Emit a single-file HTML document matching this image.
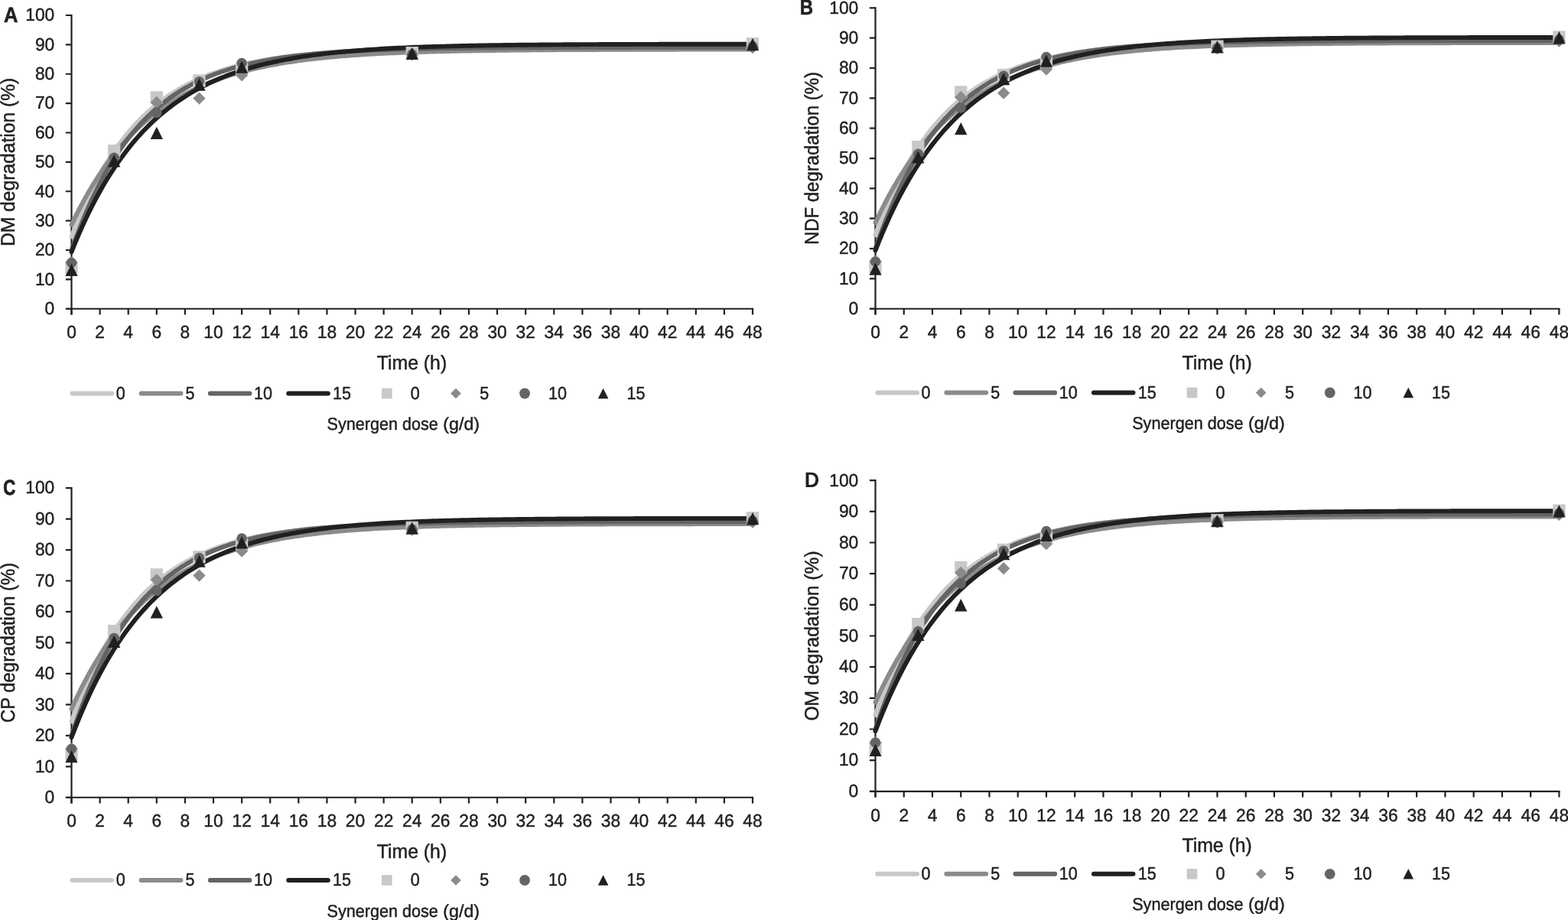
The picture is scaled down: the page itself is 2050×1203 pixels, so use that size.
<!DOCTYPE html>
<html lang="en"><head><meta charset="utf-8"><title>Degradation curves</title>
<style>html,body{margin:0;padding:0;background:#fff;}body{width:2050px;height:1203px;overflow:hidden;}svg{display:block;}</style>
</head><body>
<svg width="2050" height="1203" viewBox="0 0 2050 1203" font-family='"Liberation Sans", sans-serif' fill="#231f20" text-rendering="geometricPrecision">
<g><path d="M93.5 18.9V411.45M85.9 403.75H985.1" stroke="#231f20" stroke-width="2.2" fill="none"/>
<path d="M85.9 403.75H93.5M85.9 365.38H93.5M85.9 327H93.5M85.9 288.62H93.5M85.9 250.25H93.5M85.9 211.88H93.5M85.9 173.5H93.5M85.9 135.12H93.5M85.9 96.75H93.5M85.9 58.38H93.5M85.9 20H93.5M93.5 403.75V411.45M130.6 403.75V411.45M167.71 403.75V411.45M204.81 403.75V411.45M241.92 403.75V411.45M279.02 403.75V411.45M316.12 403.75V411.45M353.23 403.75V411.45M390.33 403.75V411.45M427.44 403.75V411.45M464.54 403.75V411.45M501.65 403.75V411.45M538.75 403.75V411.45M575.85 403.75V411.45M612.96 403.75V411.45M650.06 403.75V411.45M687.17 403.75V411.45M724.27 403.75V411.45M761.38 403.75V411.45M798.48 403.75V411.45M835.58 403.75V411.45M872.69 403.75V411.45M909.79 403.75V411.45M946.9 403.75V411.45M984 403.75V411.45" stroke="#231f20" stroke-width="2.2" fill="none"/>
<text transform="translate(71.3 411.05) scale(1 1.02)" font-size="22.8" text-anchor="end" stroke="#231f20" stroke-width="0.45">0</text>
<text transform="translate(71.3 372.68) scale(1 1.02)" font-size="22.8" text-anchor="end" stroke="#231f20" stroke-width="0.45">10</text>
<text transform="translate(71.3 334.3) scale(1 1.02)" font-size="22.8" text-anchor="end" stroke="#231f20" stroke-width="0.45">20</text>
<text transform="translate(71.3 295.93) scale(1 1.02)" font-size="22.8" text-anchor="end" stroke="#231f20" stroke-width="0.45">30</text>
<text transform="translate(71.3 257.55) scale(1 1.02)" font-size="22.8" text-anchor="end" stroke="#231f20" stroke-width="0.45">40</text>
<text transform="translate(71.3 219.18) scale(1 1.02)" font-size="22.8" text-anchor="end" stroke="#231f20" stroke-width="0.45">50</text>
<text transform="translate(71.3 180.8) scale(1 1.02)" font-size="22.8" text-anchor="end" stroke="#231f20" stroke-width="0.45">60</text>
<text transform="translate(71.3 142.43) scale(1 1.02)" font-size="22.8" text-anchor="end" stroke="#231f20" stroke-width="0.45">70</text>
<text transform="translate(71.3 104.05) scale(1 1.02)" font-size="22.8" text-anchor="end" stroke="#231f20" stroke-width="0.45">80</text>
<text transform="translate(71.3 65.67) scale(1 1.02)" font-size="22.8" text-anchor="end" stroke="#231f20" stroke-width="0.45">90</text>
<text transform="translate(71.3 27.3) scale(1 1.02)" font-size="22.8" text-anchor="end" stroke="#231f20" stroke-width="0.45">100</text>
<text transform="translate(93.5 442.45) scale(1 1.02)" font-size="22.8" text-anchor="middle" stroke="#231f20" stroke-width="0.45">0</text>
<text transform="translate(130.6 442.45) scale(1 1.02)" font-size="22.8" text-anchor="middle" stroke="#231f20" stroke-width="0.45">2</text>
<text transform="translate(167.71 442.45) scale(1 1.02)" font-size="22.8" text-anchor="middle" stroke="#231f20" stroke-width="0.45">4</text>
<text transform="translate(204.81 442.45) scale(1 1.02)" font-size="22.8" text-anchor="middle" stroke="#231f20" stroke-width="0.45">6</text>
<text transform="translate(241.92 442.45) scale(1 1.02)" font-size="22.8" text-anchor="middle" stroke="#231f20" stroke-width="0.45">8</text>
<text transform="translate(279.02 442.45) scale(1 1.02)" font-size="22.8" text-anchor="middle" stroke="#231f20" stroke-width="0.45">10</text>
<text transform="translate(316.12 442.45) scale(1 1.02)" font-size="22.8" text-anchor="middle" stroke="#231f20" stroke-width="0.45">12</text>
<text transform="translate(353.23 442.45) scale(1 1.02)" font-size="22.8" text-anchor="middle" stroke="#231f20" stroke-width="0.45">14</text>
<text transform="translate(390.33 442.45) scale(1 1.02)" font-size="22.8" text-anchor="middle" stroke="#231f20" stroke-width="0.45">16</text>
<text transform="translate(427.44 442.45) scale(1 1.02)" font-size="22.8" text-anchor="middle" stroke="#231f20" stroke-width="0.45">18</text>
<text transform="translate(464.54 442.45) scale(1 1.02)" font-size="22.8" text-anchor="middle" stroke="#231f20" stroke-width="0.45">20</text>
<text transform="translate(501.65 442.45) scale(1 1.02)" font-size="22.8" text-anchor="middle" stroke="#231f20" stroke-width="0.45">22</text>
<text transform="translate(538.75 442.45) scale(1 1.02)" font-size="22.8" text-anchor="middle" stroke="#231f20" stroke-width="0.45">24</text>
<text transform="translate(575.85 442.45) scale(1 1.02)" font-size="22.8" text-anchor="middle" stroke="#231f20" stroke-width="0.45">26</text>
<text transform="translate(612.96 442.45) scale(1 1.02)" font-size="22.8" text-anchor="middle" stroke="#231f20" stroke-width="0.45">28</text>
<text transform="translate(650.06 442.45) scale(1 1.02)" font-size="22.8" text-anchor="middle" stroke="#231f20" stroke-width="0.45">30</text>
<text transform="translate(687.17 442.45) scale(1 1.02)" font-size="22.8" text-anchor="middle" stroke="#231f20" stroke-width="0.45">32</text>
<text transform="translate(724.27 442.45) scale(1 1.02)" font-size="22.8" text-anchor="middle" stroke="#231f20" stroke-width="0.45">34</text>
<text transform="translate(761.38 442.45) scale(1 1.02)" font-size="22.8" text-anchor="middle" stroke="#231f20" stroke-width="0.45">36</text>
<text transform="translate(798.48 442.45) scale(1 1.02)" font-size="22.8" text-anchor="middle" stroke="#231f20" stroke-width="0.45">38</text>
<text transform="translate(835.58 442.45) scale(1 1.02)" font-size="22.8" text-anchor="middle" stroke="#231f20" stroke-width="0.45">40</text>
<text transform="translate(872.69 442.45) scale(1 1.02)" font-size="22.8" text-anchor="middle" stroke="#231f20" stroke-width="0.45">42</text>
<text transform="translate(909.79 442.45) scale(1 1.02)" font-size="22.8" text-anchor="middle" stroke="#231f20" stroke-width="0.45">44</text>
<text transform="translate(946.9 442.45) scale(1 1.02)" font-size="22.8" text-anchor="middle" stroke="#231f20" stroke-width="0.45">46</text>
<text transform="translate(984 442.45) scale(1 1.02)" font-size="22.8" text-anchor="middle" stroke="#231f20" stroke-width="0.45">48</text>
<path d="M93.5 309.35L98.14 297.29L102.78 285.83L107.41 274.92L112.05 264.55L116.69 254.68L121.33 245.29L125.97 236.37L130.6 227.87L135.24 219.79L139.88 212.11L144.52 204.8L149.16 197.84L153.79 191.23L158.43 184.94L163.07 178.95L167.71 173.26L172.35 167.84L176.98 162.69L181.62 157.79L186.26 153.13L190.9 148.69L195.54 144.48L200.17 140.46L204.81 136.65L209.45 133.02L214.09 129.56L218.73 126.28L223.36 123.16L228 120.18L232.64 117.36L237.28 114.67L241.92 112.11L246.55 109.67L251.19 107.36L255.83 105.16L260.47 103.06L265.11 101.07L269.74 99.18L274.38 97.37L279.02 95.66L283.66 94.03L288.3 92.48L292.93 91L297.57 89.6L302.21 88.26L306.85 86.99L311.49 85.78L316.12 84.63L320.76 83.54L325.4 82.5L330.04 81.51L334.68 80.57L339.32 79.67L343.95 78.82L348.59 78.01L353.23 77.24L357.87 76.51L362.51 75.81L367.14 75.15L371.78 74.52L376.42 73.92L381.06 73.35L385.7 72.8L390.33 72.29L394.97 71.79L399.61 71.33L404.25 70.88L408.89 70.46L413.52 70.06L418.16 69.68L422.8 69.31L427.44 68.97L432.08 68.64L436.71 68.32L441.35 68.02L445.99 67.74L450.63 67.47L455.27 67.21L459.9 66.97L464.54 66.74L469.18 66.52L473.82 66.31L478.46 66.11L483.09 65.92L487.73 65.74L492.37 65.57L497.01 65.4L501.65 65.25L506.28 65.1L510.92 64.96L515.56 64.82L520.2 64.7L524.84 64.58L529.47 64.46L534.11 64.35L538.75 64.25L543.39 64.15L548.03 64.05L552.66 63.96L557.3 63.88L561.94 63.8L566.58 63.72L571.22 63.65L575.85 63.58L580.49 63.51L585.13 63.45L589.77 63.39L594.41 63.33L599.04 63.27L603.68 63.22L608.32 63.17L612.96 63.13L617.6 63.08L622.23 63.04L626.87 63L631.51 62.96L636.15 62.92L640.79 62.89L645.42 62.86L650.06 62.83L654.7 62.8L659.34 62.77L663.98 62.74L668.61 62.71L673.25 62.69L677.89 62.67L682.53 62.64L687.17 62.62L691.8 62.6L696.44 62.58L701.08 62.57L705.72 62.55L710.36 62.53L714.99 62.52L719.63 62.5L724.27 62.49L728.91 62.47L733.55 62.46L738.18 62.45L742.82 62.44L747.46 62.43L752.1 62.42L756.74 62.41L761.38 62.4L766.01 62.39L770.65 62.38L775.29 62.37L779.93 62.36L784.57 62.36L789.2 62.35L793.84 62.34L798.48 62.34L803.12 62.33L807.76 62.32L812.39 62.32L817.03 62.31L821.67 62.31L826.31 62.3L830.95 62.3L835.58 62.3L840.22 62.29L844.86 62.29L849.5 62.28L854.14 62.28L858.77 62.28L863.41 62.27L868.05 62.27L872.69 62.27L877.33 62.27L881.96 62.26L886.6 62.26L891.24 62.26L895.88 62.26L900.52 62.25L905.15 62.25L909.79 62.25L914.43 62.25L919.07 62.25L923.71 62.24L928.34 62.24L932.98 62.24L937.62 62.24L942.26 62.24L946.9 62.24L951.53 62.24L956.17 62.24L960.81 62.23L965.45 62.23L970.09 62.23L974.72 62.23L979.36 62.23L984 62.23" stroke="#c7c8ca" stroke-width="5.9" fill="none" stroke-linecap="round" stroke-linejoin="round"/>
<path d="M93.5 294L98.14 284.39L102.78 275.19L107.41 266.38L112.05 257.93L116.69 249.83L121.33 242.08L125.97 234.65L130.6 227.53L135.24 220.71L139.88 214.17L144.52 207.91L149.16 201.91L153.79 196.16L158.43 190.65L163.07 185.37L167.71 180.31L172.35 175.46L176.98 170.82L181.62 166.37L186.26 162.11L190.9 158.03L195.54 154.11L200.17 150.36L204.81 146.77L209.45 143.33L214.09 140.03L218.73 136.87L223.36 133.84L228 130.94L232.64 128.16L237.28 125.5L241.92 122.94L246.55 120.5L251.19 118.16L255.83 115.91L260.47 113.76L265.11 111.7L269.74 109.73L274.38 107.83L279.02 106.02L283.66 104.28L288.3 102.62L292.93 101.02L297.57 99.5L302.21 98.03L306.85 96.63L311.49 95.29L316.12 94L320.76 92.76L325.4 91.58L330.04 90.45L334.68 89.36L339.32 88.32L343.95 87.33L348.59 86.37L353.23 85.46L357.87 84.58L362.51 83.74L367.14 82.94L371.78 82.17L376.42 81.43L381.06 80.72L385.7 80.04L390.33 79.39L394.97 78.77L399.61 78.17L404.25 77.6L408.89 77.05L413.52 76.53L418.16 76.03L422.8 75.54L427.44 75.08L432.08 74.64L436.71 74.22L441.35 73.81L445.99 73.42L450.63 73.05L455.27 72.69L459.9 72.35L464.54 72.02L469.18 71.71L473.82 71.41L478.46 71.12L483.09 70.84L487.73 70.58L492.37 70.32L497.01 70.08L501.65 69.85L506.28 69.62L510.92 69.41L515.56 69.21L520.2 69.01L524.84 68.82L529.47 68.64L534.11 68.47L538.75 68.3L543.39 68.14L548.03 67.99L552.66 67.85L557.3 67.71L561.94 67.57L566.58 67.45L571.22 67.32L575.85 67.21L580.49 67.09L585.13 66.99L589.77 66.88L594.41 66.78L599.04 66.69L603.68 66.6L608.32 66.51L612.96 66.43L617.6 66.35L622.23 66.27L626.87 66.2L631.51 66.13L636.15 66.06L640.79 65.99L645.42 65.93L650.06 65.87L654.7 65.82L659.34 65.76L663.98 65.71L668.61 65.66L673.25 65.61L677.89 65.57L682.53 65.52L687.17 65.48L691.8 65.44L696.44 65.4L701.08 65.36L705.72 65.33L710.36 65.29L714.99 65.26L719.63 65.23L724.27 65.2L728.91 65.17L733.55 65.14L738.18 65.12L742.82 65.09L747.46 65.07L752.1 65.05L756.74 65.02L761.38 65L766.01 64.98L770.65 64.96L775.29 64.94L779.93 64.93L784.57 64.91L789.2 64.89L793.84 64.88L798.48 64.86L803.12 64.85L807.76 64.83L812.39 64.82L817.03 64.81L821.67 64.79L826.31 64.78L830.95 64.77L835.58 64.76L840.22 64.75L844.86 64.74L849.5 64.73L854.14 64.72L858.77 64.71L863.41 64.71L868.05 64.7L872.69 64.69L877.33 64.68L881.96 64.68L886.6 64.67L891.24 64.66L895.88 64.66L900.52 64.65L905.15 64.64L909.79 64.64L914.43 64.63L919.07 64.63L923.71 64.62L928.34 64.62L932.98 64.62L937.62 64.61L942.26 64.61L946.9 64.6L951.53 64.6L956.17 64.6L960.81 64.59L965.45 64.59L970.09 64.59L974.72 64.58L979.36 64.58L984 64.58" stroke="#898b8e" stroke-width="5.9" fill="none" stroke-linecap="round" stroke-linejoin="round"/>
<path d="M93.5 327L98.14 314.07L102.78 301.77L107.41 290.06L112.05 278.93L116.69 268.34L121.33 258.27L125.97 248.69L130.6 239.58L135.24 230.91L139.88 222.66L144.52 214.82L149.16 207.36L153.79 200.26L158.43 193.51L163.07 187.09L167.71 180.98L172.35 175.17L176.98 169.64L181.62 164.38L186.26 159.38L190.9 154.62L195.54 150.1L200.17 145.79L204.81 141.7L209.45 137.8L214.09 134.1L218.73 130.57L223.36 127.22L228 124.03L232.64 121L237.28 118.11L241.92 115.37L246.55 112.75L251.19 110.27L255.83 107.91L260.47 105.66L265.11 103.52L269.74 101.49L274.38 99.56L279.02 97.72L283.66 95.97L288.3 94.3L292.93 92.72L297.57 91.21L302.21 89.78L306.85 88.41L311.49 87.12L316.12 85.88L320.76 84.71L325.4 83.6L330.04 82.53L334.68 81.52L339.32 80.56L343.95 79.65L348.59 78.78L353.23 77.95L357.87 77.17L362.51 76.42L367.14 75.71L371.78 75.03L376.42 74.39L381.06 73.77L385.7 73.19L390.33 72.64L394.97 72.11L399.61 71.61L404.25 71.13L408.89 70.68L413.52 70.25L418.16 69.84L422.8 69.45L427.44 69.07L432.08 68.72L436.71 68.38L441.35 68.06L445.99 67.76L450.63 67.47L455.27 67.2L459.9 66.93L464.54 66.69L469.18 66.45L473.82 66.22L478.46 66.01L483.09 65.81L487.73 65.61L492.37 65.43L497.01 65.25L501.65 65.08L506.28 64.93L510.92 64.77L515.56 64.63L520.2 64.49L524.84 64.36L529.47 64.24L534.11 64.12L538.75 64.01L543.39 63.9L548.03 63.8L552.66 63.71L557.3 63.62L561.94 63.53L566.58 63.45L571.22 63.37L575.85 63.29L580.49 63.22L585.13 63.15L589.77 63.09L594.41 63.03L599.04 62.97L603.68 62.91L608.32 62.86L612.96 62.81L617.6 62.76L622.23 62.72L626.87 62.67L631.51 62.63L636.15 62.59L640.79 62.56L645.42 62.52L650.06 62.49L654.7 62.45L659.34 62.42L663.98 62.39L668.61 62.37L673.25 62.34L677.89 62.32L682.53 62.29L687.17 62.27L691.8 62.25L696.44 62.23L701.08 62.21L705.72 62.19L710.36 62.17L714.99 62.16L719.63 62.14L724.27 62.12L728.91 62.11L733.55 62.1L738.18 62.08L742.82 62.07L747.46 62.06L752.1 62.05L756.74 62.04L761.38 62.03L766.01 62.02L770.65 62.01L775.29 62L779.93 61.99L784.57 61.98L789.2 61.98L793.84 61.97L798.48 61.96L803.12 61.95L807.76 61.95L812.39 61.94L817.03 61.94L821.67 61.93L826.31 61.93L830.95 61.92L835.58 61.92L840.22 61.91L844.86 61.91L849.5 61.91L854.14 61.9L858.77 61.9L863.41 61.89L868.05 61.89L872.69 61.89L877.33 61.89L881.96 61.88L886.6 61.88L891.24 61.88L895.88 61.88L900.52 61.87L905.15 61.87L909.79 61.87L914.43 61.87L919.07 61.86L923.71 61.86L928.34 61.86L932.98 61.86L937.62 61.86L942.26 61.86L946.9 61.86L951.53 61.85L956.17 61.85L960.81 61.85L965.45 61.85L970.09 61.85L974.72 61.85L979.36 61.85L984 61.85" stroke="#636466" stroke-width="5.9" fill="none" stroke-linecap="round" stroke-linejoin="round"/>
<path d="M93.5 329.3L98.14 317.87L102.78 306.91L107.41 296.42L112.05 286.37L116.69 276.74L121.33 267.52L125.97 258.68L130.6 250.22L135.24 242.11L139.88 234.35L144.52 226.91L149.16 219.78L153.79 212.96L158.43 206.42L163.07 200.16L167.71 194.16L172.35 188.41L176.98 182.9L181.62 177.63L186.26 172.58L190.9 167.74L195.54 163.1L200.17 158.66L204.81 154.41L209.45 150.34L214.09 146.43L218.73 142.69L223.36 139.11L228 135.68L232.64 132.4L237.28 129.25L241.92 126.23L246.55 123.35L251.19 120.58L255.83 117.93L260.47 115.39L265.11 112.96L269.74 110.63L274.38 108.4L279.02 106.26L283.66 104.21L288.3 102.25L292.93 100.37L297.57 98.57L302.21 96.85L306.85 95.2L311.49 93.61L316.12 92.1L320.76 90.65L325.4 89.26L330.04 87.92L334.68 86.65L339.32 85.43L343.95 84.25L348.59 83.13L353.23 82.06L357.87 81.03L362.51 80.04L367.14 79.1L371.78 78.19L376.42 77.33L381.06 76.5L385.7 75.7L390.33 74.94L394.97 74.21L399.61 73.51L404.25 72.84L408.89 72.2L413.52 71.59L418.16 71L422.8 70.44L427.44 69.9L432.08 69.38L436.71 68.88L441.35 68.41L445.99 67.95L450.63 67.52L455.27 67.1L459.9 66.7L464.54 66.32L469.18 65.95L473.82 65.6L478.46 65.26L483.09 64.94L487.73 64.63L492.37 64.34L497.01 64.05L501.65 63.78L506.28 63.52L510.92 63.27L515.56 63.04L520.2 62.81L524.84 62.59L529.47 62.38L534.11 62.18L538.75 61.99L543.39 61.8L548.03 61.63L552.66 61.46L557.3 61.29L561.94 61.14L566.58 60.99L571.22 60.85L575.85 60.71L580.49 60.58L585.13 60.46L589.77 60.34L594.41 60.22L599.04 60.11L603.68 60.01L608.32 59.9L612.96 59.81L617.6 59.72L622.23 59.63L626.87 59.54L631.51 59.46L636.15 59.38L640.79 59.31L645.42 59.24L650.06 59.17L654.7 59.1L659.34 59.04L663.98 58.98L668.61 58.92L673.25 58.87L677.89 58.81L682.53 58.76L687.17 58.71L691.8 58.67L696.44 58.62L701.08 58.58L705.72 58.54L710.36 58.5L714.99 58.46L719.63 58.43L724.27 58.39L728.91 58.36L733.55 58.33L738.18 58.3L742.82 58.27L747.46 58.24L752.1 58.21L756.74 58.19L761.38 58.16L766.01 58.14L770.65 58.12L775.29 58.1L779.93 58.08L784.57 58.06L789.2 58.04L793.84 58.02L798.48 58L803.12 57.98L807.76 57.97L812.39 57.95L817.03 57.94L821.67 57.93L826.31 57.91L830.95 57.9L835.58 57.89L840.22 57.88L844.86 57.86L849.5 57.85L854.14 57.84L858.77 57.83L863.41 57.82L868.05 57.81L872.69 57.81L877.33 57.8L881.96 57.79L886.6 57.78L891.24 57.77L895.88 57.77L900.52 57.76L905.15 57.75L909.79 57.75L914.43 57.74L919.07 57.74L923.71 57.73L928.34 57.73L932.98 57.72L937.62 57.72L942.26 57.71L946.9 57.71L951.53 57.7L956.17 57.7L960.81 57.69L965.45 57.69L970.09 57.69L974.72 57.68L979.36 57.68L984 57.68" stroke="#231f20" stroke-width="5.9" fill="none" stroke-linecap="round" stroke-linejoin="round"/>
<rect x="85.35" y="341.88" width="16.3" height="16.3" fill="#c7c8ca"/>
<rect x="141.01" y="189.14" width="16.3" height="16.3" fill="#c7c8ca"/>
<rect x="196.66" y="119.3" width="16.3" height="16.3" fill="#c7c8ca"/>
<rect x="252.32" y="97.43" width="16.3" height="16.3" fill="#c7c8ca"/>
<rect x="307.98" y="81.69" width="16.3" height="16.3" fill="#c7c8ca"/>
<rect x="530.6" y="60.97" width="16.3" height="16.3" fill="#c7c8ca"/>
<rect x="975.85" y="49.07" width="16.3" height="16.3" fill="#c7c8ca"/>
<path d="M93.5 335.35L101.65 343.5L93.5 351.65L85.35 343.5Z" fill="#898b8e"/>
<path d="M149.16 198.74L157.31 206.89L149.16 215.04L141.01 206.89Z" fill="#898b8e"/>
<path d="M204.81 125.82L212.96 133.97L204.81 142.12L196.66 133.97Z" fill="#898b8e"/>
<path d="M260.47 120.45L268.62 128.6L260.47 136.75L252.32 128.6Z" fill="#898b8e"/>
<path d="M316.12 90.14L324.27 98.29L316.12 106.44L307.98 98.29Z" fill="#898b8e"/>
<path d="M538.75 63.46L546.9 71.61L538.75 79.76L530.6 71.61Z" fill="#898b8e"/>
<path d="M984 54.06L992.15 62.21L984 70.36L975.85 62.21Z" fill="#898b8e"/>
<circle cx="93.5" cy="343.5" r="6.7" fill="#636466"/>
<circle cx="149.16" cy="206.12" r="6.7" fill="#636466"/>
<circle cx="204.81" cy="147.41" r="6.7" fill="#636466"/>
<circle cx="260.47" cy="106.73" r="6.7" fill="#636466"/>
<circle cx="316.12" cy="82.55" r="6.7" fill="#636466"/>
<circle cx="538.75" cy="71.04" r="6.7" fill="#636466"/>
<circle cx="984" cy="60.68" r="6.7" fill="#636466"/>
<path d="M93.5 344.75L101.65 361.05L85.35 361.05Z" fill="#231f20"/>
<path d="M149.16 202.19L157.31 218.49L141.01 218.49Z" fill="#231f20"/>
<path d="M204.81 165.73L212.96 182.03L196.66 182.03Z" fill="#231f20"/>
<path d="M260.47 102.41L268.62 118.72L252.32 118.72Z" fill="#231f20"/>
<path d="M316.12 79.39L324.27 95.69L307.98 95.69Z" fill="#231f20"/>
<path d="M538.75 61.74L546.9 78.04L530.6 78.04Z" fill="#231f20"/>
<path d="M984 49.84L992.15 66.14L975.85 66.14Z" fill="#231f20"/>
<text transform="translate(5.05 28.9) scale(0.95 1.04)" font-size="27.0" font-weight="bold" stroke="#231f20" stroke-width="0.6" stroke-linejoin="round">A</text>
<text transform="translate(18.9 211.88) rotate(-90) scale(1 1.1)" font-size="23.3" text-anchor="middle" textLength="220.3" lengthAdjust="spacingAndGlyphs" stroke="#231f20" stroke-width="0.45">DM degradation (%)</text>
<text transform="translate(538.45 482.9) scale(1 1.11)" font-size="23.3" text-anchor="middle" textLength="91.5" lengthAdjust="spacingAndGlyphs" stroke="#231f20" stroke-width="0.45">Time (h)</text>
<path d="M94.5 514.5H146.3" stroke="#c7c8ca" stroke-width="5.9" stroke-linecap="round" fill="none"/>
<path d="M184.6 514.5H236.5" stroke="#898b8e" stroke-width="5.9" stroke-linecap="round" fill="none"/>
<path d="M274.75 514.5H326.45" stroke="#636466" stroke-width="5.9" stroke-linecap="round" fill="none"/>
<path d="M377.2 514.5H428.85" stroke="#231f20" stroke-width="5.9" stroke-linecap="round" fill="none"/>
<rect x="499" y="507.7" width="13.6" height="13.6" fill="#c7c8ca"/>
<path d="M596 507.7L602.8 514.5L596 521.3L589.2 514.5Z" fill="#898b8e"/>
<circle cx="686.05" cy="514.5" r="6.9" fill="#636466"/>
<path d="M788.6 507.7L795.4 521.3L781.8 521.3Z" fill="#231f20"/>
<text transform="translate(151.7 521.8) scale(1 1.07)" font-size="21.6" stroke="#231f20" stroke-width="0.45">0</text>
<text transform="translate(536.8 521.8) scale(1 1.07)" font-size="21.6" stroke="#231f20" stroke-width="0.45">0</text>
<text transform="translate(242.6 521.8) scale(1 1.07)" font-size="21.6" stroke="#231f20" stroke-width="0.45">5</text>
<text transform="translate(627.3 521.8) scale(1 1.07)" font-size="21.6" stroke="#231f20" stroke-width="0.45">5</text>
<text transform="translate(332.1 521.8) scale(1 1.07)" font-size="21.6" stroke="#231f20" stroke-width="0.45">10</text>
<text transform="translate(716.9 521.8) scale(1 1.07)" font-size="21.6" stroke="#231f20" stroke-width="0.45">10</text>
<text transform="translate(435.1 521.8) scale(1 1.07)" font-size="21.6" stroke="#231f20" stroke-width="0.45">15</text>
<text transform="translate(819.4 521.8) scale(1 1.07)" font-size="21.6" stroke="#231f20" stroke-width="0.45">15</text>
<text transform="translate(473.75 561.5) scale(1 1.08)" font-size="21.0" text-anchor="middle" textLength="92.5" lengthAdjust="spacingAndGlyphs" stroke="#231f20" stroke-width="0.45">Synergen</text>
<text transform="translate(549.4 561.5) scale(1 1.08)" font-size="21.0" text-anchor="middle" textLength="46.8" lengthAdjust="spacingAndGlyphs" stroke="#231f20" stroke-width="0.45">dose</text>
<text transform="translate(603.2 561.5) scale(1 1.08)" font-size="21.0" text-anchor="middle" textLength="47.7" lengthAdjust="spacingAndGlyphs" stroke="#231f20" stroke-width="0.45">(g/d)</text></g>
<g><path d="M1144.5 9.2V411.45M1136.9 403.75H2039.5" stroke="#231f20" stroke-width="2.2" fill="none"/>
<path d="M1136.9 403.75H1144.5M1136.9 364.4H1144.5M1136.9 325.06H1144.5M1136.9 285.72H1144.5M1136.9 246.37H1144.5M1136.9 207.03H1144.5M1136.9 167.68H1144.5M1136.9 128.34H1144.5M1136.9 88.99H1144.5M1136.9 49.64H1144.5M1136.9 10.3H1144.5M1144.5 403.75V411.45M1181.75 403.75V411.45M1218.99 403.75V411.45M1256.24 403.75V411.45M1293.48 403.75V411.45M1330.73 403.75V411.45M1367.97 403.75V411.45M1405.22 403.75V411.45M1442.47 403.75V411.45M1479.71 403.75V411.45M1516.96 403.75V411.45M1554.2 403.75V411.45M1591.45 403.75V411.45M1628.7 403.75V411.45M1665.94 403.75V411.45M1703.19 403.75V411.45M1740.43 403.75V411.45M1777.68 403.75V411.45M1814.93 403.75V411.45M1852.17 403.75V411.45M1889.42 403.75V411.45M1926.66 403.75V411.45M1963.91 403.75V411.45M2001.15 403.75V411.45M2038.4 403.75V411.45" stroke="#231f20" stroke-width="2.2" fill="none"/>
<text transform="translate(1122.3 411.05) scale(1 1.02)" font-size="22.8" text-anchor="end" stroke="#231f20" stroke-width="0.45">0</text>
<text transform="translate(1122.3 371.7) scale(1 1.02)" font-size="22.8" text-anchor="end" stroke="#231f20" stroke-width="0.45">10</text>
<text transform="translate(1122.3 332.36) scale(1 1.02)" font-size="22.8" text-anchor="end" stroke="#231f20" stroke-width="0.45">20</text>
<text transform="translate(1122.3 293.02) scale(1 1.02)" font-size="22.8" text-anchor="end" stroke="#231f20" stroke-width="0.45">30</text>
<text transform="translate(1122.3 253.67) scale(1 1.02)" font-size="22.8" text-anchor="end" stroke="#231f20" stroke-width="0.45">40</text>
<text transform="translate(1122.3 214.33) scale(1 1.02)" font-size="22.8" text-anchor="end" stroke="#231f20" stroke-width="0.45">50</text>
<text transform="translate(1122.3 174.98) scale(1 1.02)" font-size="22.8" text-anchor="end" stroke="#231f20" stroke-width="0.45">60</text>
<text transform="translate(1122.3 135.64) scale(1 1.02)" font-size="22.8" text-anchor="end" stroke="#231f20" stroke-width="0.45">70</text>
<text transform="translate(1122.3 96.29) scale(1 1.02)" font-size="22.8" text-anchor="end" stroke="#231f20" stroke-width="0.45">80</text>
<text transform="translate(1122.3 56.94) scale(1 1.02)" font-size="22.8" text-anchor="end" stroke="#231f20" stroke-width="0.45">90</text>
<text transform="translate(1122.3 17.6) scale(1 1.02)" font-size="22.8" text-anchor="end" stroke="#231f20" stroke-width="0.45">100</text>
<text transform="translate(1144.5 442.45) scale(1 1.02)" font-size="22.8" text-anchor="middle" stroke="#231f20" stroke-width="0.45">0</text>
<text transform="translate(1181.75 442.45) scale(1 1.02)" font-size="22.8" text-anchor="middle" stroke="#231f20" stroke-width="0.45">2</text>
<text transform="translate(1218.99 442.45) scale(1 1.02)" font-size="22.8" text-anchor="middle" stroke="#231f20" stroke-width="0.45">4</text>
<text transform="translate(1256.24 442.45) scale(1 1.02)" font-size="22.8" text-anchor="middle" stroke="#231f20" stroke-width="0.45">6</text>
<text transform="translate(1293.48 442.45) scale(1 1.02)" font-size="22.8" text-anchor="middle" stroke="#231f20" stroke-width="0.45">8</text>
<text transform="translate(1330.73 442.45) scale(1 1.02)" font-size="22.8" text-anchor="middle" stroke="#231f20" stroke-width="0.45">10</text>
<text transform="translate(1367.97 442.45) scale(1 1.02)" font-size="22.8" text-anchor="middle" stroke="#231f20" stroke-width="0.45">12</text>
<text transform="translate(1405.22 442.45) scale(1 1.02)" font-size="22.8" text-anchor="middle" stroke="#231f20" stroke-width="0.45">14</text>
<text transform="translate(1442.47 442.45) scale(1 1.02)" font-size="22.8" text-anchor="middle" stroke="#231f20" stroke-width="0.45">16</text>
<text transform="translate(1479.71 442.45) scale(1 1.02)" font-size="22.8" text-anchor="middle" stroke="#231f20" stroke-width="0.45">18</text>
<text transform="translate(1516.96 442.45) scale(1 1.02)" font-size="22.8" text-anchor="middle" stroke="#231f20" stroke-width="0.45">20</text>
<text transform="translate(1554.2 442.45) scale(1 1.02)" font-size="22.8" text-anchor="middle" stroke="#231f20" stroke-width="0.45">22</text>
<text transform="translate(1591.45 442.45) scale(1 1.02)" font-size="22.8" text-anchor="middle" stroke="#231f20" stroke-width="0.45">24</text>
<text transform="translate(1628.7 442.45) scale(1 1.02)" font-size="22.8" text-anchor="middle" stroke="#231f20" stroke-width="0.45">26</text>
<text transform="translate(1665.94 442.45) scale(1 1.02)" font-size="22.8" text-anchor="middle" stroke="#231f20" stroke-width="0.45">28</text>
<text transform="translate(1703.19 442.45) scale(1 1.02)" font-size="22.8" text-anchor="middle" stroke="#231f20" stroke-width="0.45">30</text>
<text transform="translate(1740.43 442.45) scale(1 1.02)" font-size="22.8" text-anchor="middle" stroke="#231f20" stroke-width="0.45">32</text>
<text transform="translate(1777.68 442.45) scale(1 1.02)" font-size="22.8" text-anchor="middle" stroke="#231f20" stroke-width="0.45">34</text>
<text transform="translate(1814.93 442.45) scale(1 1.02)" font-size="22.8" text-anchor="middle" stroke="#231f20" stroke-width="0.45">36</text>
<text transform="translate(1852.17 442.45) scale(1 1.02)" font-size="22.8" text-anchor="middle" stroke="#231f20" stroke-width="0.45">38</text>
<text transform="translate(1889.42 442.45) scale(1 1.02)" font-size="22.8" text-anchor="middle" stroke="#231f20" stroke-width="0.45">40</text>
<text transform="translate(1926.66 442.45) scale(1 1.02)" font-size="22.8" text-anchor="middle" stroke="#231f20" stroke-width="0.45">42</text>
<text transform="translate(1963.91 442.45) scale(1 1.02)" font-size="22.8" text-anchor="middle" stroke="#231f20" stroke-width="0.45">44</text>
<text transform="translate(2001.15 442.45) scale(1 1.02)" font-size="22.8" text-anchor="middle" stroke="#231f20" stroke-width="0.45">46</text>
<text transform="translate(2038.4 442.45) scale(1 1.02)" font-size="22.8" text-anchor="middle" stroke="#231f20" stroke-width="0.45">48</text>
<path d="M1144.5 306.96L1149.16 294.6L1153.81 282.85L1158.47 271.67L1163.12 261.03L1167.78 250.91L1172.43 241.29L1177.09 232.13L1181.75 223.43L1186.4 215.14L1191.06 207.26L1195.71 199.77L1200.37 192.64L1205.02 185.86L1209.68 179.41L1214.34 173.27L1218.99 167.43L1223.65 161.88L1228.3 156.6L1232.96 151.57L1237.61 146.79L1242.27 142.25L1246.93 137.92L1251.58 133.81L1256.24 129.9L1260.89 126.17L1265.55 122.63L1270.2 119.27L1274.86 116.06L1279.52 113.02L1284.17 110.12L1288.83 107.36L1293.48 104.74L1298.14 102.24L1302.79 99.87L1307.45 97.61L1312.11 95.46L1316.76 93.42L1321.42 91.48L1326.07 89.63L1330.73 87.87L1335.38 86.2L1340.04 84.61L1344.7 83.09L1349.35 81.66L1354.01 80.29L1358.66 78.98L1363.32 77.74L1367.97 76.57L1372.63 75.44L1377.29 74.38L1381.94 73.36L1386.6 72.4L1391.25 71.48L1395.91 70.61L1400.57 69.78L1405.22 68.99L1409.88 68.24L1414.53 67.52L1419.19 66.84L1423.84 66.19L1428.5 65.58L1433.16 64.99L1437.81 64.44L1442.47 63.91L1447.12 63.4L1451.78 62.93L1456.43 62.47L1461.09 62.04L1465.75 61.62L1470.4 61.23L1475.06 60.86L1479.71 60.5L1484.37 60.17L1489.02 59.84L1493.68 59.54L1498.34 59.25L1502.99 58.97L1507.65 58.71L1512.3 58.46L1516.96 58.22L1521.61 57.99L1526.27 57.78L1530.93 57.57L1535.58 57.38L1540.24 57.19L1544.89 57.02L1549.55 56.85L1554.2 56.69L1558.86 56.54L1563.52 56.39L1568.17 56.26L1572.83 56.13L1577.48 56L1582.14 55.88L1586.79 55.77L1591.45 55.66L1596.11 55.56L1600.76 55.47L1605.42 55.37L1610.07 55.29L1614.73 55.2L1619.38 55.12L1624.04 55.05L1628.7 54.98L1633.35 54.91L1638.01 54.84L1642.66 54.78L1647.32 54.72L1651.97 54.67L1656.63 54.62L1661.29 54.56L1665.94 54.52L1670.6 54.47L1675.25 54.43L1679.91 54.39L1684.56 54.35L1689.22 54.31L1693.88 54.27L1698.53 54.24L1703.19 54.21L1707.84 54.18L1712.5 54.15L1717.15 54.12L1721.81 54.09L1726.47 54.07L1731.12 54.04L1735.78 54.02L1740.43 54L1745.09 53.98L1749.74 53.96L1754.4 53.94L1759.06 53.92L1763.71 53.91L1768.37 53.89L1773.02 53.88L1777.68 53.86L1782.33 53.85L1786.99 53.83L1791.65 53.82L1796.3 53.81L1800.96 53.8L1805.61 53.79L1810.27 53.78L1814.93 53.77L1819.58 53.76L1824.24 53.75L1828.89 53.74L1833.55 53.73L1838.2 53.73L1842.86 53.72L1847.52 53.71L1852.17 53.71L1856.83 53.7L1861.48 53.69L1866.14 53.69L1870.79 53.68L1875.45 53.68L1880.11 53.67L1884.76 53.67L1889.42 53.66L1894.07 53.66L1898.73 53.66L1903.38 53.65L1908.04 53.65L1912.7 53.65L1917.35 53.64L1922.01 53.64L1926.66 53.64L1931.32 53.63L1935.97 53.63L1940.63 53.63L1945.29 53.63L1949.94 53.62L1954.6 53.62L1959.25 53.62L1963.91 53.62L1968.56 53.62L1973.22 53.61L1977.88 53.61L1982.53 53.61L1987.19 53.61L1991.84 53.61L1996.5 53.61L2001.15 53.61L2005.81 53.6L2010.47 53.6L2015.12 53.6L2019.78 53.6L2024.43 53.6L2029.09 53.6L2033.74 53.6L2038.4 53.6" stroke="#c7c8ca" stroke-width="5.9" fill="none" stroke-linecap="round" stroke-linejoin="round"/>
<path d="M1144.5 291.22L1149.16 281.38L1153.81 271.94L1158.47 262.9L1163.12 254.24L1167.78 245.94L1172.43 237.99L1177.09 230.37L1181.75 223.07L1186.4 216.08L1191.06 209.38L1195.71 202.96L1200.37 196.8L1205.02 190.91L1209.68 185.26L1214.34 179.85L1218.99 174.66L1223.65 169.69L1228.3 164.93L1232.96 160.37L1237.61 156L1242.27 151.81L1246.93 147.8L1251.58 143.96L1256.24 140.27L1260.89 136.75L1265.55 133.36L1270.2 130.12L1274.86 127.02L1279.52 124.04L1284.17 121.19L1288.83 118.46L1293.48 115.85L1298.14 113.34L1302.79 110.94L1307.45 108.64L1312.11 106.43L1316.76 104.32L1321.42 102.29L1326.07 100.35L1330.73 98.49L1335.38 96.71L1340.04 95.01L1344.7 93.37L1349.35 91.81L1354.01 90.31L1358.66 88.87L1363.32 87.49L1367.97 86.17L1372.63 84.9L1377.29 83.69L1381.94 82.53L1386.6 81.42L1391.25 80.35L1395.91 79.33L1400.57 78.35L1405.22 77.41L1409.88 76.51L1414.53 75.65L1419.19 74.83L1423.84 74.04L1428.5 73.28L1433.16 72.55L1437.81 71.86L1442.47 71.19L1447.12 70.56L1451.78 69.94L1456.43 69.36L1461.09 68.8L1465.75 68.26L1470.4 67.74L1475.06 67.25L1479.71 66.78L1484.37 66.32L1489.02 65.89L1493.68 65.47L1498.34 65.07L1502.99 64.69L1507.65 64.32L1512.3 63.97L1516.96 63.64L1521.61 63.31L1526.27 63.01L1530.93 62.71L1535.58 62.43L1540.24 62.16L1544.89 61.9L1549.55 61.65L1554.2 61.41L1558.86 61.18L1563.52 60.96L1568.17 60.75L1572.83 60.55L1577.48 60.36L1582.14 60.17L1586.79 59.99L1591.45 59.82L1596.11 59.66L1600.76 59.51L1605.42 59.36L1610.07 59.21L1614.73 59.08L1619.38 58.95L1624.04 58.82L1628.7 58.7L1633.35 58.58L1638.01 58.47L1642.66 58.37L1647.32 58.27L1651.97 58.17L1656.63 58.07L1661.29 57.99L1665.94 57.9L1670.6 57.82L1675.25 57.74L1679.91 57.66L1684.56 57.59L1689.22 57.52L1693.88 57.46L1698.53 57.39L1703.19 57.33L1707.84 57.27L1712.5 57.22L1717.15 57.16L1721.81 57.11L1726.47 57.06L1731.12 57.02L1735.78 56.97L1740.43 56.93L1745.09 56.89L1749.74 56.85L1754.4 56.81L1759.06 56.77L1763.71 56.74L1768.37 56.71L1773.02 56.67L1777.68 56.64L1782.33 56.61L1786.99 56.59L1791.65 56.56L1796.3 56.53L1800.96 56.51L1805.61 56.48L1810.27 56.46L1814.93 56.44L1819.58 56.42L1824.24 56.4L1828.89 56.38L1833.55 56.36L1838.2 56.34L1842.86 56.33L1847.52 56.31L1852.17 56.29L1856.83 56.28L1861.48 56.27L1866.14 56.25L1870.79 56.24L1875.45 56.23L1880.11 56.21L1884.76 56.2L1889.42 56.19L1894.07 56.18L1898.73 56.17L1903.38 56.16L1908.04 56.15L1912.7 56.14L1917.35 56.14L1922.01 56.13L1926.66 56.12L1931.32 56.11L1935.97 56.1L1940.63 56.1L1945.29 56.09L1949.94 56.08L1954.6 56.08L1959.25 56.07L1963.91 56.07L1968.56 56.06L1973.22 56.06L1977.88 56.05L1982.53 56.05L1987.19 56.04L1991.84 56.04L1996.5 56.03L2001.15 56.03L2005.81 56.03L2010.47 56.02L2015.12 56.02L2019.78 56.02L2024.43 56.01L2029.09 56.01L2033.74 56.01L2038.4 56" stroke="#898b8e" stroke-width="5.9" fill="none" stroke-linecap="round" stroke-linejoin="round"/>
<path d="M1144.5 325.06L1149.16 311.8L1153.81 299.19L1158.47 287.19L1163.12 275.78L1167.78 264.92L1172.43 254.6L1177.09 244.77L1181.75 235.43L1186.4 226.54L1191.06 218.09L1195.71 210.04L1200.37 202.39L1205.02 195.12L1209.68 188.19L1214.34 181.61L1218.99 175.35L1223.65 169.39L1228.3 163.72L1232.96 158.33L1237.61 153.2L1242.27 148.33L1246.93 143.69L1251.58 139.27L1256.24 135.07L1260.89 131.08L1265.55 127.28L1270.2 123.67L1274.86 120.23L1279.52 116.96L1284.17 113.85L1288.83 110.89L1293.48 108.08L1298.14 105.4L1302.79 102.85L1307.45 100.43L1312.11 98.13L1316.76 95.93L1321.42 93.85L1326.07 91.87L1330.73 89.98L1335.38 88.19L1340.04 86.48L1344.7 84.86L1349.35 83.31L1354.01 81.84L1358.66 80.44L1363.32 79.11L1367.97 77.85L1372.63 76.65L1377.29 75.5L1381.94 74.41L1386.6 73.38L1391.25 72.39L1395.91 71.46L1400.57 70.57L1405.22 69.72L1409.88 68.91L1414.53 68.15L1419.19 67.42L1423.84 66.72L1428.5 66.06L1433.16 65.43L1437.81 64.84L1442.47 64.27L1447.12 63.73L1451.78 63.21L1456.43 62.72L1461.09 62.26L1465.75 61.82L1470.4 61.4L1475.06 61L1479.71 60.61L1484.37 60.25L1489.02 59.91L1493.68 59.58L1498.34 59.27L1502.99 58.97L1507.65 58.69L1512.3 58.42L1516.96 58.17L1521.61 57.92L1526.27 57.69L1530.93 57.47L1535.58 57.26L1540.24 57.06L1544.89 56.87L1549.55 56.7L1554.2 56.52L1558.86 56.36L1563.52 56.21L1568.17 56.06L1572.83 55.92L1577.48 55.79L1582.14 55.66L1586.79 55.54L1591.45 55.42L1596.11 55.31L1600.76 55.21L1605.42 55.11L1610.07 55.02L1614.73 54.93L1619.38 54.84L1624.04 54.76L1628.7 54.69L1633.35 54.61L1638.01 54.54L1642.66 54.48L1647.32 54.41L1651.97 54.35L1656.63 54.3L1661.29 54.24L1665.94 54.19L1670.6 54.14L1675.25 54.1L1679.91 54.05L1684.56 54.01L1689.22 53.97L1693.88 53.93L1698.53 53.89L1703.19 53.86L1707.84 53.83L1712.5 53.8L1717.15 53.77L1721.81 53.74L1726.47 53.71L1731.12 53.69L1735.78 53.66L1740.43 53.64L1745.09 53.62L1749.74 53.59L1754.4 53.57L1759.06 53.56L1763.71 53.54L1768.37 53.52L1773.02 53.5L1777.68 53.49L1782.33 53.47L1786.99 53.46L1791.65 53.45L1796.3 53.43L1800.96 53.42L1805.61 53.41L1810.27 53.4L1814.93 53.39L1819.58 53.38L1824.24 53.37L1828.89 53.36L1833.55 53.35L1838.2 53.34L1842.86 53.34L1847.52 53.33L1852.17 53.32L1856.83 53.32L1861.48 53.31L1866.14 53.3L1870.79 53.3L1875.45 53.29L1880.11 53.29L1884.76 53.28L1889.42 53.28L1894.07 53.27L1898.73 53.27L1903.38 53.26L1908.04 53.26L1912.7 53.26L1917.35 53.25L1922.01 53.25L1926.66 53.25L1931.32 53.24L1935.97 53.24L1940.63 53.24L1945.29 53.24L1949.94 53.23L1954.6 53.23L1959.25 53.23L1963.91 53.23L1968.56 53.23L1973.22 53.22L1977.88 53.22L1982.53 53.22L1987.19 53.22L1991.84 53.22L1996.5 53.21L2001.15 53.21L2005.81 53.21L2010.47 53.21L2015.12 53.21L2019.78 53.21L2024.43 53.21L2029.09 53.21L2033.74 53.21L2038.4 53.2" stroke="#636466" stroke-width="5.9" fill="none" stroke-linecap="round" stroke-linejoin="round"/>
<path d="M1144.5 327.42L1149.16 315.7L1153.81 304.47L1158.47 293.71L1163.12 283.4L1167.78 273.53L1172.43 264.07L1177.09 255.02L1181.75 246.34L1186.4 238.03L1191.06 230.07L1195.71 222.44L1200.37 215.13L1205.02 208.13L1209.68 201.43L1214.34 195.01L1218.99 188.86L1223.65 182.97L1228.3 177.32L1232.96 171.91L1237.61 166.74L1242.27 161.77L1246.93 157.02L1251.58 152.47L1256.24 148.11L1260.89 143.93L1265.55 139.93L1270.2 136.1L1274.86 132.42L1279.52 128.91L1284.17 125.54L1288.83 122.31L1293.48 119.22L1298.14 116.26L1302.79 113.42L1307.45 110.7L1312.11 108.1L1316.76 105.61L1321.42 103.22L1326.07 100.93L1330.73 98.74L1335.38 96.64L1340.04 94.63L1344.7 92.7L1349.35 90.86L1354.01 89.09L1358.66 87.4L1363.32 85.77L1367.97 84.22L1372.63 82.73L1377.29 81.31L1381.94 79.94L1386.6 78.63L1391.25 77.38L1395.91 76.18L1400.57 75.03L1405.22 73.93L1409.88 72.87L1414.53 71.86L1419.19 70.89L1423.84 69.97L1428.5 69.08L1433.16 68.23L1437.81 67.41L1442.47 66.63L1447.12 65.88L1451.78 65.17L1456.43 64.48L1461.09 63.82L1465.75 63.19L1470.4 62.59L1475.06 62.01L1479.71 61.46L1484.37 60.93L1489.02 60.42L1493.68 59.93L1498.34 59.47L1502.99 59.02L1507.65 58.59L1512.3 58.18L1516.96 57.79L1521.61 57.41L1526.27 57.05L1530.93 56.71L1535.58 56.38L1540.24 56.06L1544.89 55.76L1549.55 55.47L1554.2 55.19L1558.86 54.92L1563.52 54.67L1568.17 54.42L1572.83 54.19L1577.48 53.97L1582.14 53.75L1586.79 53.54L1591.45 53.35L1596.11 53.16L1600.76 52.98L1605.42 52.8L1610.07 52.64L1614.73 52.48L1619.38 52.33L1624.04 52.18L1628.7 52.04L1633.35 51.91L1638.01 51.78L1642.66 51.66L1647.32 51.54L1651.97 51.42L1656.63 51.32L1661.29 51.21L1665.94 51.11L1670.6 51.02L1675.25 50.93L1679.91 50.84L1684.56 50.76L1689.22 50.68L1693.88 50.6L1698.53 50.53L1703.19 50.46L1707.84 50.39L1712.5 50.33L1717.15 50.26L1721.81 50.2L1726.47 50.15L1731.12 50.09L1735.78 50.04L1740.43 49.99L1745.09 49.94L1749.74 49.9L1754.4 49.85L1759.06 49.81L1763.71 49.77L1768.37 49.73L1773.02 49.7L1777.68 49.66L1782.33 49.63L1786.99 49.6L1791.65 49.56L1796.3 49.53L1800.96 49.51L1805.61 49.48L1810.27 49.45L1814.93 49.43L1819.58 49.4L1824.24 49.38L1828.89 49.36L1833.55 49.34L1838.2 49.32L1842.86 49.3L1847.52 49.28L1852.17 49.26L1856.83 49.25L1861.48 49.23L1866.14 49.21L1870.79 49.2L1875.45 49.18L1880.11 49.17L1884.76 49.16L1889.42 49.14L1894.07 49.13L1898.73 49.12L1903.38 49.11L1908.04 49.1L1912.7 49.09L1917.35 49.08L1922.01 49.07L1926.66 49.06L1931.32 49.05L1935.97 49.04L1940.63 49.04L1945.29 49.03L1949.94 49.02L1954.6 49.01L1959.25 49.01L1963.91 49L1968.56 49L1973.22 48.99L1977.88 48.98L1982.53 48.98L1987.19 48.97L1991.84 48.97L1996.5 48.96L2001.15 48.96L2005.81 48.96L2010.47 48.95L2015.12 48.95L2019.78 48.94L2024.43 48.94L2029.09 48.94L2033.74 48.93L2038.4 48.93" stroke="#231f20" stroke-width="5.9" fill="none" stroke-linecap="round" stroke-linejoin="round"/>
<rect x="1136.35" y="340.52" width="16.3" height="16.3" fill="#c7c8ca"/>
<rect x="1192.22" y="183.92" width="16.3" height="16.3" fill="#c7c8ca"/>
<rect x="1248.09" y="112.32" width="16.3" height="16.3" fill="#c7c8ca"/>
<rect x="1303.96" y="89.89" width="16.3" height="16.3" fill="#c7c8ca"/>
<rect x="1359.82" y="73.76" width="16.3" height="16.3" fill="#c7c8ca"/>
<rect x="1583.3" y="52.51" width="16.3" height="16.3" fill="#c7c8ca"/>
<rect x="2030.25" y="40.31" width="16.3" height="16.3" fill="#c7c8ca"/>
<path d="M1144.5 333.83L1152.65 341.98L1144.5 350.13L1136.35 341.98Z" fill="#898b8e"/>
<path d="M1200.37 193.76L1208.52 201.91L1200.37 210.06L1192.22 201.91Z" fill="#898b8e"/>
<path d="M1256.24 119L1264.39 127.15L1256.24 135.3L1248.09 127.15Z" fill="#898b8e"/>
<path d="M1312.11 113.5L1320.26 121.65L1312.11 129.8L1303.96 121.65Z" fill="#898b8e"/>
<path d="M1367.97 82.41L1376.12 90.56L1367.97 98.71L1359.82 90.56Z" fill="#898b8e"/>
<path d="M1591.45 55.07L1599.6 63.22L1591.45 71.37L1583.3 63.22Z" fill="#898b8e"/>
<path d="M2038.4 45.43L2046.55 53.58L2038.4 61.73L2030.25 53.58Z" fill="#898b8e"/>
<circle cx="1144.5" cy="341.98" r="6.7" fill="#636466"/>
<circle cx="1200.37" cy="201.12" r="6.7" fill="#636466"/>
<circle cx="1256.24" cy="140.93" r="6.7" fill="#636466"/>
<circle cx="1312.11" cy="99.22" r="6.7" fill="#636466"/>
<circle cx="1367.97" cy="74.43" r="6.7" fill="#636466"/>
<circle cx="1591.45" cy="62.63" r="6.7" fill="#636466"/>
<circle cx="2038.4" cy="52.01" r="6.7" fill="#636466"/>
<path d="M1144.5 343.47L1152.65 359.77L1136.35 359.77Z" fill="#231f20"/>
<path d="M1200.37 197.3L1208.52 213.6L1192.22 213.6Z" fill="#231f20"/>
<path d="M1256.24 159.92L1264.39 176.22L1248.09 176.22Z" fill="#231f20"/>
<path d="M1312.11 95L1320.26 111.3L1303.96 111.3Z" fill="#231f20"/>
<path d="M1367.97 71.4L1376.12 87.7L1359.82 87.7Z" fill="#231f20"/>
<path d="M1591.45 53.3L1599.6 69.6L1583.3 69.6Z" fill="#231f20"/>
<path d="M2038.4 41.1L2046.55 57.4L2030.25 57.4Z" fill="#231f20"/>
<text transform="translate(1045.8 18.7) scale(0.89 1.04)" font-size="27.0" font-weight="bold" stroke="#231f20" stroke-width="0.6" stroke-linejoin="round">B</text>
<text transform="translate(1069.5 207.03) rotate(-90) scale(1 1.1)" font-size="23.3" text-anchor="middle" textLength="226" lengthAdjust="spacingAndGlyphs" stroke="#231f20" stroke-width="0.45">NDF degradation (%)</text>
<text transform="translate(1591.15 483) scale(1 1.11)" font-size="23.3" text-anchor="middle" textLength="91.5" lengthAdjust="spacingAndGlyphs" stroke="#231f20" stroke-width="0.45">Time (h)</text>
<path d="M1147.2 513.5H1199" stroke="#c7c8ca" stroke-width="5.9" stroke-linecap="round" fill="none"/>
<path d="M1237.3 513.5H1289.2" stroke="#898b8e" stroke-width="5.9" stroke-linecap="round" fill="none"/>
<path d="M1327.45 513.5H1379.15" stroke="#636466" stroke-width="5.9" stroke-linecap="round" fill="none"/>
<path d="M1429.9 513.5H1481.55" stroke="#231f20" stroke-width="5.9" stroke-linecap="round" fill="none"/>
<rect x="1551.7" y="506.7" width="13.6" height="13.6" fill="#c7c8ca"/>
<path d="M1648.7 506.7L1655.5 513.5L1648.7 520.3L1641.9 513.5Z" fill="#898b8e"/>
<circle cx="1738.75" cy="513.5" r="6.9" fill="#636466"/>
<path d="M1841.3 506.7L1848.1 520.3L1834.5 520.3Z" fill="#231f20"/>
<text transform="translate(1204.4 520.8) scale(1 1.07)" font-size="21.6" stroke="#231f20" stroke-width="0.45">0</text>
<text transform="translate(1589.5 520.8) scale(1 1.07)" font-size="21.6" stroke="#231f20" stroke-width="0.45">0</text>
<text transform="translate(1295.3 520.8) scale(1 1.07)" font-size="21.6" stroke="#231f20" stroke-width="0.45">5</text>
<text transform="translate(1680 520.8) scale(1 1.07)" font-size="21.6" stroke="#231f20" stroke-width="0.45">5</text>
<text transform="translate(1384.8 520.8) scale(1 1.07)" font-size="21.6" stroke="#231f20" stroke-width="0.45">10</text>
<text transform="translate(1769.6 520.8) scale(1 1.07)" font-size="21.6" stroke="#231f20" stroke-width="0.45">10</text>
<text transform="translate(1487.8 520.8) scale(1 1.07)" font-size="21.6" stroke="#231f20" stroke-width="0.45">15</text>
<text transform="translate(1872.1 520.8) scale(1 1.07)" font-size="21.6" stroke="#231f20" stroke-width="0.45">15</text>
<text transform="translate(1526.45 561.2) scale(1 1.08)" font-size="21.0" text-anchor="middle" textLength="92.5" lengthAdjust="spacingAndGlyphs" stroke="#231f20" stroke-width="0.45">Synergen</text>
<text transform="translate(1602.1 561.2) scale(1 1.08)" font-size="21.0" text-anchor="middle" textLength="46.8" lengthAdjust="spacingAndGlyphs" stroke="#231f20" stroke-width="0.45">dose</text>
<text transform="translate(1655.9 561.2) scale(1 1.08)" font-size="21.0" text-anchor="middle" textLength="47.7" lengthAdjust="spacingAndGlyphs" stroke="#231f20" stroke-width="0.45">(g/d)</text></g>
<g><path d="M93.5 637V1050.45M85.9 1042.75H985.1" stroke="#231f20" stroke-width="2.2" fill="none"/>
<path d="M85.9 1042.75H93.5M85.9 1002.28H93.5M85.9 961.82H93.5M85.9 921.36H93.5M85.9 880.89H93.5M85.9 840.42H93.5M85.9 799.96H93.5M85.9 759.5H93.5M85.9 719.03H93.5M85.9 678.57H93.5M85.9 638.1H93.5M93.5 1042.75V1050.45M130.6 1042.75V1050.45M167.71 1042.75V1050.45M204.81 1042.75V1050.45M241.92 1042.75V1050.45M279.02 1042.75V1050.45M316.12 1042.75V1050.45M353.23 1042.75V1050.45M390.33 1042.75V1050.45M427.44 1042.75V1050.45M464.54 1042.75V1050.45M501.65 1042.75V1050.45M538.75 1042.75V1050.45M575.85 1042.75V1050.45M612.96 1042.75V1050.45M650.06 1042.75V1050.45M687.17 1042.75V1050.45M724.27 1042.75V1050.45M761.38 1042.75V1050.45M798.48 1042.75V1050.45M835.58 1042.75V1050.45M872.69 1042.75V1050.45M909.79 1042.75V1050.45M946.9 1042.75V1050.45M984 1042.75V1050.45" stroke="#231f20" stroke-width="2.2" fill="none"/>
<text transform="translate(71.3 1050.05) scale(1 1.02)" font-size="22.8" text-anchor="end" stroke="#231f20" stroke-width="0.45">0</text>
<text transform="translate(71.3 1009.58) scale(1 1.02)" font-size="22.8" text-anchor="end" stroke="#231f20" stroke-width="0.45">10</text>
<text transform="translate(71.3 969.12) scale(1 1.02)" font-size="22.8" text-anchor="end" stroke="#231f20" stroke-width="0.45">20</text>
<text transform="translate(71.3 928.65) scale(1 1.02)" font-size="22.8" text-anchor="end" stroke="#231f20" stroke-width="0.45">30</text>
<text transform="translate(71.3 888.19) scale(1 1.02)" font-size="22.8" text-anchor="end" stroke="#231f20" stroke-width="0.45">40</text>
<text transform="translate(71.3 847.72) scale(1 1.02)" font-size="22.8" text-anchor="end" stroke="#231f20" stroke-width="0.45">50</text>
<text transform="translate(71.3 807.26) scale(1 1.02)" font-size="22.8" text-anchor="end" stroke="#231f20" stroke-width="0.45">60</text>
<text transform="translate(71.3 766.79) scale(1 1.02)" font-size="22.8" text-anchor="end" stroke="#231f20" stroke-width="0.45">70</text>
<text transform="translate(71.3 726.33) scale(1 1.02)" font-size="22.8" text-anchor="end" stroke="#231f20" stroke-width="0.45">80</text>
<text transform="translate(71.3 685.87) scale(1 1.02)" font-size="22.8" text-anchor="end" stroke="#231f20" stroke-width="0.45">90</text>
<text transform="translate(71.3 645.4) scale(1 1.02)" font-size="22.8" text-anchor="end" stroke="#231f20" stroke-width="0.45">100</text>
<text transform="translate(93.5 1081.45) scale(1 1.02)" font-size="22.8" text-anchor="middle" stroke="#231f20" stroke-width="0.45">0</text>
<text transform="translate(130.6 1081.45) scale(1 1.02)" font-size="22.8" text-anchor="middle" stroke="#231f20" stroke-width="0.45">2</text>
<text transform="translate(167.71 1081.45) scale(1 1.02)" font-size="22.8" text-anchor="middle" stroke="#231f20" stroke-width="0.45">4</text>
<text transform="translate(204.81 1081.45) scale(1 1.02)" font-size="22.8" text-anchor="middle" stroke="#231f20" stroke-width="0.45">6</text>
<text transform="translate(241.92 1081.45) scale(1 1.02)" font-size="22.8" text-anchor="middle" stroke="#231f20" stroke-width="0.45">8</text>
<text transform="translate(279.02 1081.45) scale(1 1.02)" font-size="22.8" text-anchor="middle" stroke="#231f20" stroke-width="0.45">10</text>
<text transform="translate(316.12 1081.45) scale(1 1.02)" font-size="22.8" text-anchor="middle" stroke="#231f20" stroke-width="0.45">12</text>
<text transform="translate(353.23 1081.45) scale(1 1.02)" font-size="22.8" text-anchor="middle" stroke="#231f20" stroke-width="0.45">14</text>
<text transform="translate(390.33 1081.45) scale(1 1.02)" font-size="22.8" text-anchor="middle" stroke="#231f20" stroke-width="0.45">16</text>
<text transform="translate(427.44 1081.45) scale(1 1.02)" font-size="22.8" text-anchor="middle" stroke="#231f20" stroke-width="0.45">18</text>
<text transform="translate(464.54 1081.45) scale(1 1.02)" font-size="22.8" text-anchor="middle" stroke="#231f20" stroke-width="0.45">20</text>
<text transform="translate(501.65 1081.45) scale(1 1.02)" font-size="22.8" text-anchor="middle" stroke="#231f20" stroke-width="0.45">22</text>
<text transform="translate(538.75 1081.45) scale(1 1.02)" font-size="22.8" text-anchor="middle" stroke="#231f20" stroke-width="0.45">24</text>
<text transform="translate(575.85 1081.45) scale(1 1.02)" font-size="22.8" text-anchor="middle" stroke="#231f20" stroke-width="0.45">26</text>
<text transform="translate(612.96 1081.45) scale(1 1.02)" font-size="22.8" text-anchor="middle" stroke="#231f20" stroke-width="0.45">28</text>
<text transform="translate(650.06 1081.45) scale(1 1.02)" font-size="22.8" text-anchor="middle" stroke="#231f20" stroke-width="0.45">30</text>
<text transform="translate(687.17 1081.45) scale(1 1.02)" font-size="22.8" text-anchor="middle" stroke="#231f20" stroke-width="0.45">32</text>
<text transform="translate(724.27 1081.45) scale(1 1.02)" font-size="22.8" text-anchor="middle" stroke="#231f20" stroke-width="0.45">34</text>
<text transform="translate(761.38 1081.45) scale(1 1.02)" font-size="22.8" text-anchor="middle" stroke="#231f20" stroke-width="0.45">36</text>
<text transform="translate(798.48 1081.45) scale(1 1.02)" font-size="22.8" text-anchor="middle" stroke="#231f20" stroke-width="0.45">38</text>
<text transform="translate(835.58 1081.45) scale(1 1.02)" font-size="22.8" text-anchor="middle" stroke="#231f20" stroke-width="0.45">40</text>
<text transform="translate(872.69 1081.45) scale(1 1.02)" font-size="22.8" text-anchor="middle" stroke="#231f20" stroke-width="0.45">42</text>
<text transform="translate(909.79 1081.45) scale(1 1.02)" font-size="22.8" text-anchor="middle" stroke="#231f20" stroke-width="0.45">44</text>
<text transform="translate(946.9 1081.45) scale(1 1.02)" font-size="22.8" text-anchor="middle" stroke="#231f20" stroke-width="0.45">46</text>
<text transform="translate(984 1081.45) scale(1 1.02)" font-size="22.8" text-anchor="middle" stroke="#231f20" stroke-width="0.45">48</text>
<path d="M93.5 943.21L98.14 930.5L102.78 918.41L107.41 906.91L112.05 895.97L116.69 885.56L121.33 875.66L125.97 866.25L130.6 857.29L135.24 848.77L139.88 840.67L144.52 832.96L149.16 825.63L153.79 818.65L158.43 812.02L163.07 805.71L167.71 799.7L172.35 793.99L176.98 788.56L181.62 783.39L186.26 778.48L190.9 773.8L195.54 769.36L200.17 765.13L204.81 761.1L209.45 757.27L214.09 753.63L218.73 750.17L223.36 746.87L228 743.74L232.64 740.76L237.28 737.92L241.92 735.22L246.55 732.66L251.19 730.22L255.83 727.9L260.47 725.69L265.11 723.59L269.74 721.59L274.38 719.69L279.02 717.88L283.66 716.16L288.3 714.52L292.93 712.97L297.57 711.49L302.21 710.08L306.85 708.74L311.49 707.46L316.12 706.25L320.76 705.1L325.4 704L330.04 702.96L334.68 701.97L339.32 701.02L343.95 700.12L348.59 699.27L353.23 698.46L357.87 697.69L362.51 696.95L367.14 696.25L371.78 695.59L376.42 694.95L381.06 694.35L385.7 693.78L390.33 693.23L394.97 692.72L399.61 692.22L404.25 691.75L408.89 691.31L413.52 690.88L418.16 690.48L422.8 690.1L427.44 689.73L432.08 689.38L436.71 689.05L441.35 688.74L445.99 688.44L450.63 688.16L455.27 687.89L459.9 687.63L464.54 687.38L469.18 687.15L473.82 686.93L478.46 686.72L483.09 686.52L487.73 686.33L492.37 686.15L497.01 685.97L501.65 685.81L506.28 685.65L510.92 685.51L515.56 685.37L520.2 685.23L524.84 685.1L529.47 684.98L534.11 684.87L538.75 684.76L543.39 684.65L548.03 684.55L552.66 684.46L557.3 684.37L561.94 684.28L566.58 684.2L571.22 684.12L575.85 684.05L580.49 683.98L585.13 683.91L589.77 683.85L594.41 683.79L599.04 683.73L603.68 683.68L608.32 683.62L612.96 683.58L617.6 683.53L622.23 683.48L626.87 683.44L631.51 683.4L636.15 683.36L640.79 683.33L645.42 683.29L650.06 683.26L654.7 683.23L659.34 683.2L663.98 683.17L668.61 683.14L673.25 683.11L677.89 683.09L682.53 683.07L687.17 683.04L691.8 683.02L696.44 683L701.08 682.98L705.72 682.97L710.36 682.95L714.99 682.93L719.63 682.92L724.27 682.9L728.91 682.89L733.55 682.87L738.18 682.86L742.82 682.85L747.46 682.84L752.1 682.83L756.74 682.82L761.38 682.81L766.01 682.8L770.65 682.79L775.29 682.78L779.93 682.77L784.57 682.76L789.2 682.76L793.84 682.75L798.48 682.74L803.12 682.74L807.76 682.73L812.39 682.72L817.03 682.72L821.67 682.71L826.31 682.71L830.95 682.7L835.58 682.7L840.22 682.69L844.86 682.69L849.5 682.69L854.14 682.68L858.77 682.68L863.41 682.68L868.05 682.67L872.69 682.67L877.33 682.67L881.96 682.66L886.6 682.66L891.24 682.66L895.88 682.66L900.52 682.65L905.15 682.65L909.79 682.65L914.43 682.65L919.07 682.65L923.71 682.65L928.34 682.64L932.98 682.64L937.62 682.64L942.26 682.64L946.9 682.64L951.53 682.64L956.17 682.64L960.81 682.63L965.45 682.63L970.09 682.63L974.72 682.63L979.36 682.63L984 682.63" stroke="#c7c8ca" stroke-width="5.9" fill="none" stroke-linecap="round" stroke-linejoin="round"/>
<path d="M93.5 927.02L98.14 916.89L102.78 907.19L107.41 897.89L112.05 888.99L116.69 880.45L121.33 872.27L125.97 864.44L130.6 856.93L135.24 849.74L139.88 842.84L144.52 836.24L149.16 829.91L153.79 823.85L158.43 818.04L163.07 812.47L167.71 807.14L172.35 802.03L176.98 797.14L181.62 792.44L186.26 787.95L190.9 783.64L195.54 779.52L200.17 775.56L204.81 771.77L209.45 768.14L214.09 764.67L218.73 761.33L223.36 758.14L228 755.08L232.64 752.15L237.28 749.34L241.92 746.65L246.55 744.07L251.19 741.6L255.83 739.24L260.47 736.97L265.11 734.79L269.74 732.71L274.38 730.72L279.02 728.81L283.66 726.97L288.3 725.22L292.93 723.54L297.57 721.93L302.21 720.38L306.85 718.9L311.49 717.49L316.12 716.13L320.76 714.83L325.4 713.58L330.04 712.39L334.68 711.24L339.32 710.15L343.95 709.09L348.59 708.09L353.23 707.12L357.87 706.2L362.51 705.31L367.14 704.47L371.78 703.65L376.42 702.87L381.06 702.13L385.7 701.41L390.33 700.73L394.97 700.07L399.61 699.44L404.25 698.84L408.89 698.26L413.52 697.71L418.16 697.18L422.8 696.67L427.44 696.18L432.08 695.72L436.71 695.27L441.35 694.84L445.99 694.43L450.63 694.04L455.27 693.66L459.9 693.3L464.54 692.96L469.18 692.62L473.82 692.31L478.46 692L483.09 691.71L487.73 691.43L492.37 691.16L497.01 690.91L501.65 690.66L506.28 690.43L510.92 690.2L515.56 689.99L520.2 689.78L524.84 689.58L529.47 689.39L534.11 689.21L538.75 689.03L543.39 688.87L548.03 688.71L552.66 688.55L557.3 688.41L561.94 688.26L566.58 688.13L571.22 688L575.85 687.88L580.49 687.76L585.13 687.64L589.77 687.54L594.41 687.43L599.04 687.33L603.68 687.23L608.32 687.14L612.96 687.05L617.6 686.97L622.23 686.89L626.87 686.81L631.51 686.74L636.15 686.67L640.79 686.6L645.42 686.53L650.06 686.47L654.7 686.41L659.34 686.35L663.98 686.3L668.61 686.25L673.25 686.2L677.89 686.15L682.53 686.1L687.17 686.06L691.8 686.01L696.44 685.97L701.08 685.93L705.72 685.9L710.36 685.86L714.99 685.83L719.63 685.79L724.27 685.76L728.91 685.73L733.55 685.7L738.18 685.67L742.82 685.65L747.46 685.62L752.1 685.6L756.74 685.57L761.38 685.55L766.01 685.53L770.65 685.51L775.29 685.49L779.93 685.47L784.57 685.45L789.2 685.44L793.84 685.42L798.48 685.4L803.12 685.39L807.76 685.37L812.39 685.36L817.03 685.35L821.67 685.33L826.31 685.32L830.95 685.31L835.58 685.3L840.22 685.29L844.86 685.28L849.5 685.27L854.14 685.26L858.77 685.25L863.41 685.24L868.05 685.23L872.69 685.22L877.33 685.22L881.96 685.21L886.6 685.2L891.24 685.19L895.88 685.19L900.52 685.18L905.15 685.18L909.79 685.17L914.43 685.16L919.07 685.16L923.71 685.15L928.34 685.15L932.98 685.14L937.62 685.14L942.26 685.14L946.9 685.13L951.53 685.13L956.17 685.12L960.81 685.12L965.45 685.12L970.09 685.11L974.72 685.11L979.36 685.11L984 685.11" stroke="#898b8e" stroke-width="5.9" fill="none" stroke-linecap="round" stroke-linejoin="round"/>
<path d="M93.5 961.82L98.14 948.18L102.78 935.21L107.41 922.87L112.05 911.13L116.69 899.97L121.33 889.35L125.97 879.25L130.6 869.64L135.24 860.5L139.88 851.8L144.52 843.53L149.16 835.66L153.79 828.18L158.43 821.06L163.07 814.29L167.71 807.85L172.35 801.72L176.98 795.89L181.62 790.34L186.26 785.07L190.9 780.05L195.54 775.28L200.17 770.74L204.81 766.42L209.45 762.32L214.09 758.41L218.73 754.69L223.36 751.16L228 747.8L232.64 744.6L237.28 741.55L241.92 738.66L246.55 735.91L251.19 733.29L255.83 730.8L260.47 728.43L265.11 726.17L269.74 724.03L274.38 721.99L279.02 720.05L283.66 718.2L288.3 716.45L292.93 714.78L297.57 713.19L302.21 711.68L306.85 710.24L311.49 708.87L316.12 707.57L320.76 706.34L325.4 705.16L330.04 704.04L334.68 702.97L339.32 701.96L343.95 701L348.59 700.08L353.23 699.21L357.87 698.38L362.51 697.59L367.14 696.84L371.78 696.13L376.42 695.45L381.06 694.8L385.7 694.19L390.33 693.6L394.97 693.05L399.61 692.52L404.25 692.02L408.89 691.54L413.52 691.08L418.16 690.65L422.8 690.24L427.44 689.85L432.08 689.47L436.71 689.12L441.35 688.78L445.99 688.46L450.63 688.16L455.27 687.87L459.9 687.59L464.54 687.33L469.18 687.08L473.82 686.84L478.46 686.61L483.09 686.4L487.73 686.2L492.37 686L497.01 685.82L501.65 685.64L506.28 685.47L510.92 685.31L515.56 685.16L520.2 685.02L524.84 684.88L529.47 684.75L534.11 684.63L538.75 684.51L543.39 684.4L548.03 684.29L552.66 684.19L557.3 684.09L561.94 684L566.58 683.91L571.22 683.83L575.85 683.75L580.49 683.67L585.13 683.6L589.77 683.53L594.41 683.47L599.04 683.41L603.68 683.35L608.32 683.29L612.96 683.24L617.6 683.19L622.23 683.14L626.87 683.1L631.51 683.05L636.15 683.01L640.79 682.97L645.42 682.94L650.06 682.9L654.7 682.87L659.34 682.83L663.98 682.8L668.61 682.77L673.25 682.75L677.89 682.72L682.53 682.7L687.17 682.67L691.8 682.65L696.44 682.63L701.08 682.61L705.72 682.59L710.36 682.57L714.99 682.55L719.63 682.53L724.27 682.52L728.91 682.5L733.55 682.49L738.18 682.47L742.82 682.46L747.46 682.45L752.1 682.44L756.74 682.43L761.38 682.42L766.01 682.41L770.65 682.4L775.29 682.39L779.93 682.38L784.57 682.37L789.2 682.36L793.84 682.35L798.48 682.35L803.12 682.34L807.76 682.33L812.39 682.33L817.03 682.32L821.67 682.32L826.31 682.31L830.95 682.31L835.58 682.3L840.22 682.3L844.86 682.29L849.5 682.29L854.14 682.28L858.77 682.28L863.41 682.28L868.05 682.27L872.69 682.27L877.33 682.27L881.96 682.26L886.6 682.26L891.24 682.26L895.88 682.26L900.52 682.25L905.15 682.25L909.79 682.25L914.43 682.25L919.07 682.24L923.71 682.24L928.34 682.24L932.98 682.24L937.62 682.24L942.26 682.24L946.9 682.24L951.53 682.23L956.17 682.23L960.81 682.23L965.45 682.23L970.09 682.23L974.72 682.23L979.36 682.23L984 682.23" stroke="#636466" stroke-width="5.9" fill="none" stroke-linecap="round" stroke-linejoin="round"/>
<path d="M93.5 964.25L98.14 952.19L102.78 940.64L107.41 929.57L112.05 918.98L116.69 908.82L121.33 899.1L125.97 889.78L130.6 880.86L135.24 872.31L139.88 864.12L144.52 856.28L149.16 848.76L153.79 841.57L158.43 834.67L163.07 828.07L167.71 821.74L172.35 815.68L176.98 809.88L181.62 804.32L186.26 798.99L190.9 793.89L195.54 789L200.17 784.32L204.81 779.83L209.45 775.53L214.09 771.42L218.73 767.48L223.36 763.7L228 760.08L232.64 756.62L237.28 753.3L241.92 750.12L246.55 747.07L251.19 744.16L255.83 741.36L260.47 738.68L265.11 736.12L269.74 733.66L274.38 731.31L279.02 729.06L283.66 726.9L288.3 724.83L292.93 722.85L297.57 720.95L302.21 719.13L306.85 717.39L311.49 715.72L316.12 714.12L320.76 712.59L325.4 711.13L330.04 709.72L334.68 708.38L339.32 707.09L343.95 705.85L348.59 704.67L353.23 703.54L357.87 702.45L362.51 701.41L367.14 700.42L371.78 699.46L376.42 698.55L381.06 697.68L385.7 696.84L390.33 696.03L394.97 695.26L399.61 694.53L404.25 693.82L408.89 693.15L413.52 692.5L418.16 691.88L422.8 691.28L427.44 690.71L432.08 690.17L436.71 689.65L441.35 689.15L445.99 688.67L450.63 688.21L455.27 687.77L459.9 687.35L464.54 686.94L469.18 686.56L473.82 686.18L478.46 685.83L483.09 685.49L487.73 685.16L492.37 684.85L497.01 684.55L501.65 684.27L506.28 683.99L510.92 683.73L515.56 683.48L520.2 683.24L524.84 683.01L529.47 682.79L534.11 682.58L538.75 682.37L543.39 682.18L548.03 681.99L552.66 681.81L557.3 681.64L561.94 681.48L566.58 681.32L571.22 681.17L575.85 681.03L580.49 680.89L585.13 680.76L589.77 680.63L594.41 680.51L599.04 680.4L603.68 680.28L608.32 680.18L612.96 680.08L617.6 679.98L622.23 679.88L626.87 679.8L631.51 679.71L636.15 679.63L640.79 679.55L645.42 679.47L650.06 679.4L654.7 679.33L659.34 679.27L663.98 679.2L668.61 679.14L673.25 679.08L677.89 679.03L682.53 678.97L687.17 678.92L691.8 678.87L696.44 678.83L701.08 678.78L705.72 678.74L710.36 678.7L714.99 678.66L719.63 678.62L724.27 678.58L728.91 678.55L733.55 678.51L738.18 678.48L742.82 678.45L747.46 678.42L752.1 678.39L756.74 678.37L761.38 678.34L766.01 678.32L770.65 678.29L775.29 678.27L779.93 678.25L784.57 678.23L789.2 678.21L793.84 678.19L798.48 678.17L803.12 678.15L807.76 678.14L812.39 678.12L817.03 678.11L821.67 678.09L826.31 678.08L830.95 678.06L835.58 678.05L840.22 678.04L844.86 678.03L849.5 678.01L854.14 678L858.77 677.99L863.41 677.98L868.05 677.97L872.69 677.96L877.33 677.96L881.96 677.95L886.6 677.94L891.24 677.93L895.88 677.92L900.52 677.92L905.15 677.91L909.79 677.9L914.43 677.9L919.07 677.89L923.71 677.89L928.34 677.88L932.98 677.88L937.62 677.87L942.26 677.87L946.9 677.86L951.53 677.86L956.17 677.85L960.81 677.85L965.45 677.84L970.09 677.84L974.72 677.84L979.36 677.83L984 677.83" stroke="#231f20" stroke-width="5.9" fill="none" stroke-linecap="round" stroke-linejoin="round"/>
<rect x="85.35" y="977.95" width="16.3" height="16.3" fill="#c7c8ca"/>
<rect x="141.01" y="816.9" width="16.3" height="16.3" fill="#c7c8ca"/>
<rect x="196.66" y="743.25" width="16.3" height="16.3" fill="#c7c8ca"/>
<rect x="252.32" y="720.19" width="16.3" height="16.3" fill="#c7c8ca"/>
<rect x="307.98" y="703.6" width="16.3" height="16.3" fill="#c7c8ca"/>
<rect x="530.6" y="681.75" width="16.3" height="16.3" fill="#c7c8ca"/>
<rect x="975.85" y="669.2" width="16.3" height="16.3" fill="#c7c8ca"/>
<path d="M93.5 971.07L101.65 979.22L93.5 987.37L85.35 979.22Z" fill="#898b8e"/>
<path d="M149.16 827.01L157.31 835.16L149.16 843.31L141.01 835.16Z" fill="#898b8e"/>
<path d="M204.81 750.13L212.96 758.28L204.81 766.43L196.66 758.28Z" fill="#898b8e"/>
<path d="M260.47 744.47L268.62 752.62L260.47 760.77L252.32 752.62Z" fill="#898b8e"/>
<path d="M316.12 712.5L324.27 720.65L316.12 728.8L307.98 720.65Z" fill="#898b8e"/>
<path d="M538.75 684.38L546.9 692.53L538.75 700.68L530.6 692.53Z" fill="#898b8e"/>
<path d="M984 674.46L992.15 682.61L984 690.76L975.85 682.61Z" fill="#898b8e"/>
<circle cx="93.5" cy="979.22" r="6.7" fill="#636466"/>
<circle cx="149.16" cy="834.36" r="6.7" fill="#636466"/>
<circle cx="204.81" cy="772.44" r="6.7" fill="#636466"/>
<circle cx="260.47" cy="729.55" r="6.7" fill="#636466"/>
<circle cx="316.12" cy="704.06" r="6.7" fill="#636466"/>
<circle cx="538.75" cy="691.92" r="6.7" fill="#636466"/>
<circle cx="984" cy="680.99" r="6.7" fill="#636466"/>
<path d="M93.5 980.98L101.65 997.28L85.35 997.28Z" fill="#231f20"/>
<path d="M149.16 830.66L157.31 846.96L141.01 846.96Z" fill="#231f20"/>
<path d="M204.81 792.21L212.96 808.51L196.66 808.51Z" fill="#231f20"/>
<path d="M260.47 725.45L268.62 741.75L252.32 741.75Z" fill="#231f20"/>
<path d="M316.12 701.17L324.27 717.47L307.98 717.47Z" fill="#231f20"/>
<path d="M538.75 682.55L546.9 698.85L530.6 698.85Z" fill="#231f20"/>
<path d="M984 670.01L992.15 686.31L975.85 686.31Z" fill="#231f20"/>
<text transform="translate(4.2 646.6) scale(0.82 1.04)" font-size="27.0" font-weight="bold" stroke="#231f20" stroke-width="0.9" stroke-linejoin="round">C</text>
<text transform="translate(18.55 840.42) rotate(-90) scale(1 1.1)" font-size="23.3" text-anchor="middle" textLength="209.4" lengthAdjust="spacingAndGlyphs" stroke="#231f20" stroke-width="0.45">CP degradation (%)</text>
<text transform="translate(538.45 1122.1) scale(1 1.11)" font-size="23.3" text-anchor="middle" textLength="91.5" lengthAdjust="spacingAndGlyphs" stroke="#231f20" stroke-width="0.45">Time (h)</text>
<path d="M94.5 1151H146.3" stroke="#c7c8ca" stroke-width="5.9" stroke-linecap="round" fill="none"/>
<path d="M184.6 1151H236.5" stroke="#898b8e" stroke-width="5.9" stroke-linecap="round" fill="none"/>
<path d="M274.75 1151H326.45" stroke="#636466" stroke-width="5.9" stroke-linecap="round" fill="none"/>
<path d="M377.2 1151H428.85" stroke="#231f20" stroke-width="5.9" stroke-linecap="round" fill="none"/>
<rect x="499" y="1144.2" width="13.6" height="13.6" fill="#c7c8ca"/>
<path d="M596 1144.2L602.8 1151L596 1157.8L589.2 1151Z" fill="#898b8e"/>
<circle cx="686.05" cy="1151" r="6.9" fill="#636466"/>
<path d="M788.6 1144.2L795.4 1157.8L781.8 1157.8Z" fill="#231f20"/>
<text transform="translate(151.7 1158.3) scale(1 1.07)" font-size="21.6" stroke="#231f20" stroke-width="0.45">0</text>
<text transform="translate(536.8 1158.3) scale(1 1.07)" font-size="21.6" stroke="#231f20" stroke-width="0.45">0</text>
<text transform="translate(242.6 1158.3) scale(1 1.07)" font-size="21.6" stroke="#231f20" stroke-width="0.45">5</text>
<text transform="translate(627.3 1158.3) scale(1 1.07)" font-size="21.6" stroke="#231f20" stroke-width="0.45">5</text>
<text transform="translate(332.1 1158.3) scale(1 1.07)" font-size="21.6" stroke="#231f20" stroke-width="0.45">10</text>
<text transform="translate(716.9 1158.3) scale(1 1.07)" font-size="21.6" stroke="#231f20" stroke-width="0.45">10</text>
<text transform="translate(435.1 1158.3) scale(1 1.07)" font-size="21.6" stroke="#231f20" stroke-width="0.45">15</text>
<text transform="translate(819.4 1158.3) scale(1 1.07)" font-size="21.6" stroke="#231f20" stroke-width="0.45">15</text>
<text transform="translate(473.75 1199.1) scale(1 1.08)" font-size="21.0" text-anchor="middle" textLength="92.5" lengthAdjust="spacingAndGlyphs" stroke="#231f20" stroke-width="0.45">Synergen</text>
<text transform="translate(549.4 1199.1) scale(1 1.08)" font-size="21.0" text-anchor="middle" textLength="46.8" lengthAdjust="spacingAndGlyphs" stroke="#231f20" stroke-width="0.45">dose</text>
<text transform="translate(603.2 1199.1) scale(1 1.08)" font-size="21.0" text-anchor="middle" textLength="47.7" lengthAdjust="spacingAndGlyphs" stroke="#231f20" stroke-width="0.45">(g/d)</text></g>
<g><path d="M1144.5 627.1V1042.5M1136.9 1034.8H2039.5" stroke="#231f20" stroke-width="2.2" fill="none"/>
<path d="M1136.9 1034.8H1144.5M1136.9 994.14H1144.5M1136.9 953.48H1144.5M1136.9 912.82H1144.5M1136.9 872.16H1144.5M1136.9 831.5H1144.5M1136.9 790.84H1144.5M1136.9 750.18H1144.5M1136.9 709.52H1144.5M1136.9 668.86H1144.5M1136.9 628.2H1144.5M1144.5 1034.8V1042.5M1181.75 1034.8V1042.5M1218.99 1034.8V1042.5M1256.24 1034.8V1042.5M1293.48 1034.8V1042.5M1330.73 1034.8V1042.5M1367.97 1034.8V1042.5M1405.22 1034.8V1042.5M1442.47 1034.8V1042.5M1479.71 1034.8V1042.5M1516.96 1034.8V1042.5M1554.2 1034.8V1042.5M1591.45 1034.8V1042.5M1628.7 1034.8V1042.5M1665.94 1034.8V1042.5M1703.19 1034.8V1042.5M1740.43 1034.8V1042.5M1777.68 1034.8V1042.5M1814.93 1034.8V1042.5M1852.17 1034.8V1042.5M1889.42 1034.8V1042.5M1926.66 1034.8V1042.5M1963.91 1034.8V1042.5M2001.15 1034.8V1042.5M2038.4 1034.8V1042.5" stroke="#231f20" stroke-width="2.2" fill="none"/>
<text transform="translate(1122.3 1042.1) scale(1 1.02)" font-size="22.8" text-anchor="end" stroke="#231f20" stroke-width="0.45">0</text>
<text transform="translate(1122.3 1001.44) scale(1 1.02)" font-size="22.8" text-anchor="end" stroke="#231f20" stroke-width="0.45">10</text>
<text transform="translate(1122.3 960.78) scale(1 1.02)" font-size="22.8" text-anchor="end" stroke="#231f20" stroke-width="0.45">20</text>
<text transform="translate(1122.3 920.12) scale(1 1.02)" font-size="22.8" text-anchor="end" stroke="#231f20" stroke-width="0.45">30</text>
<text transform="translate(1122.3 879.46) scale(1 1.02)" font-size="22.8" text-anchor="end" stroke="#231f20" stroke-width="0.45">40</text>
<text transform="translate(1122.3 838.8) scale(1 1.02)" font-size="22.8" text-anchor="end" stroke="#231f20" stroke-width="0.45">50</text>
<text transform="translate(1122.3 798.14) scale(1 1.02)" font-size="22.8" text-anchor="end" stroke="#231f20" stroke-width="0.45">60</text>
<text transform="translate(1122.3 757.48) scale(1 1.02)" font-size="22.8" text-anchor="end" stroke="#231f20" stroke-width="0.45">70</text>
<text transform="translate(1122.3 716.82) scale(1 1.02)" font-size="22.8" text-anchor="end" stroke="#231f20" stroke-width="0.45">80</text>
<text transform="translate(1122.3 676.16) scale(1 1.02)" font-size="22.8" text-anchor="end" stroke="#231f20" stroke-width="0.45">90</text>
<text transform="translate(1122.3 635.5) scale(1 1.02)" font-size="22.8" text-anchor="end" stroke="#231f20" stroke-width="0.45">100</text>
<text transform="translate(1144.5 1073.5) scale(1 1.02)" font-size="22.8" text-anchor="middle" stroke="#231f20" stroke-width="0.45">0</text>
<text transform="translate(1181.75 1073.5) scale(1 1.02)" font-size="22.8" text-anchor="middle" stroke="#231f20" stroke-width="0.45">2</text>
<text transform="translate(1218.99 1073.5) scale(1 1.02)" font-size="22.8" text-anchor="middle" stroke="#231f20" stroke-width="0.45">4</text>
<text transform="translate(1256.24 1073.5) scale(1 1.02)" font-size="22.8" text-anchor="middle" stroke="#231f20" stroke-width="0.45">6</text>
<text transform="translate(1293.48 1073.5) scale(1 1.02)" font-size="22.8" text-anchor="middle" stroke="#231f20" stroke-width="0.45">8</text>
<text transform="translate(1330.73 1073.5) scale(1 1.02)" font-size="22.8" text-anchor="middle" stroke="#231f20" stroke-width="0.45">10</text>
<text transform="translate(1367.97 1073.5) scale(1 1.02)" font-size="22.8" text-anchor="middle" stroke="#231f20" stroke-width="0.45">12</text>
<text transform="translate(1405.22 1073.5) scale(1 1.02)" font-size="22.8" text-anchor="middle" stroke="#231f20" stroke-width="0.45">14</text>
<text transform="translate(1442.47 1073.5) scale(1 1.02)" font-size="22.8" text-anchor="middle" stroke="#231f20" stroke-width="0.45">16</text>
<text transform="translate(1479.71 1073.5) scale(1 1.02)" font-size="22.8" text-anchor="middle" stroke="#231f20" stroke-width="0.45">18</text>
<text transform="translate(1516.96 1073.5) scale(1 1.02)" font-size="22.8" text-anchor="middle" stroke="#231f20" stroke-width="0.45">20</text>
<text transform="translate(1554.2 1073.5) scale(1 1.02)" font-size="22.8" text-anchor="middle" stroke="#231f20" stroke-width="0.45">22</text>
<text transform="translate(1591.45 1073.5) scale(1 1.02)" font-size="22.8" text-anchor="middle" stroke="#231f20" stroke-width="0.45">24</text>
<text transform="translate(1628.7 1073.5) scale(1 1.02)" font-size="22.8" text-anchor="middle" stroke="#231f20" stroke-width="0.45">26</text>
<text transform="translate(1665.94 1073.5) scale(1 1.02)" font-size="22.8" text-anchor="middle" stroke="#231f20" stroke-width="0.45">28</text>
<text transform="translate(1703.19 1073.5) scale(1 1.02)" font-size="22.8" text-anchor="middle" stroke="#231f20" stroke-width="0.45">30</text>
<text transform="translate(1740.43 1073.5) scale(1 1.02)" font-size="22.8" text-anchor="middle" stroke="#231f20" stroke-width="0.45">32</text>
<text transform="translate(1777.68 1073.5) scale(1 1.02)" font-size="22.8" text-anchor="middle" stroke="#231f20" stroke-width="0.45">34</text>
<text transform="translate(1814.93 1073.5) scale(1 1.02)" font-size="22.8" text-anchor="middle" stroke="#231f20" stroke-width="0.45">36</text>
<text transform="translate(1852.17 1073.5) scale(1 1.02)" font-size="22.8" text-anchor="middle" stroke="#231f20" stroke-width="0.45">38</text>
<text transform="translate(1889.42 1073.5) scale(1 1.02)" font-size="22.8" text-anchor="middle" stroke="#231f20" stroke-width="0.45">40</text>
<text transform="translate(1926.66 1073.5) scale(1 1.02)" font-size="22.8" text-anchor="middle" stroke="#231f20" stroke-width="0.45">42</text>
<text transform="translate(1963.91 1073.5) scale(1 1.02)" font-size="22.8" text-anchor="middle" stroke="#231f20" stroke-width="0.45">44</text>
<text transform="translate(2001.15 1073.5) scale(1 1.02)" font-size="22.8" text-anchor="middle" stroke="#231f20" stroke-width="0.45">46</text>
<text transform="translate(2038.4 1073.5) scale(1 1.02)" font-size="22.8" text-anchor="middle" stroke="#231f20" stroke-width="0.45">48</text>
<path d="M1144.5 934.78L1149.16 922.01L1153.81 909.86L1158.47 898.3L1163.12 887.31L1167.78 876.86L1172.43 866.91L1177.09 857.45L1181.75 848.45L1186.4 839.89L1191.06 831.75L1195.71 824L1200.37 816.63L1205.02 809.62L1209.68 802.96L1214.34 796.62L1218.99 790.58L1223.65 784.84L1228.3 779.39L1232.96 774.19L1237.61 769.26L1242.27 764.56L1246.93 760.09L1251.58 755.84L1256.24 751.79L1260.89 747.95L1265.55 744.29L1270.2 740.81L1274.86 737.5L1279.52 734.35L1284.17 731.35L1288.83 728.5L1293.48 725.79L1298.14 723.21L1302.79 720.76L1307.45 718.43L1312.11 716.21L1316.76 714.1L1321.42 712.09L1326.07 710.18L1330.73 708.36L1335.38 706.64L1340.04 704.99L1344.7 703.43L1349.35 701.94L1354.01 700.52L1358.66 699.18L1363.32 697.9L1367.97 696.68L1372.63 695.52L1377.29 694.42L1381.94 693.37L1386.6 692.37L1391.25 691.43L1395.91 690.52L1400.57 689.67L1405.22 688.85L1409.88 688.07L1414.53 687.33L1419.19 686.63L1423.84 685.96L1428.5 685.33L1433.16 684.72L1437.81 684.15L1442.47 683.6L1447.12 683.08L1451.78 682.58L1456.43 682.11L1461.09 681.66L1465.75 681.24L1470.4 680.83L1475.06 680.45L1479.71 680.08L1484.37 679.73L1489.02 679.4L1493.68 679.08L1498.34 678.78L1502.99 678.5L1507.65 678.23L1512.3 677.97L1516.96 677.72L1521.61 677.49L1526.27 677.27L1530.93 677.05L1535.58 676.85L1540.24 676.66L1544.89 676.48L1549.55 676.31L1554.2 676.14L1558.86 675.98L1563.52 675.83L1568.17 675.69L1572.83 675.56L1577.48 675.43L1582.14 675.31L1586.79 675.19L1591.45 675.08L1596.11 674.98L1600.76 674.88L1605.42 674.78L1610.07 674.69L1614.73 674.6L1619.38 674.52L1624.04 674.44L1628.7 674.37L1633.35 674.3L1638.01 674.23L1642.66 674.17L1647.32 674.11L1651.97 674.05L1656.63 674L1661.29 673.94L1665.94 673.89L1670.6 673.85L1675.25 673.8L1679.91 673.76L1684.56 673.72L1689.22 673.68L1693.88 673.64L1698.53 673.61L1703.19 673.58L1707.84 673.54L1712.5 673.51L1717.15 673.48L1721.81 673.46L1726.47 673.43L1731.12 673.41L1735.78 673.38L1740.43 673.36L1745.09 673.34L1749.74 673.32L1754.4 673.3L1759.06 673.28L1763.71 673.26L1768.37 673.25L1773.02 673.23L1777.68 673.22L1782.33 673.2L1786.99 673.19L1791.65 673.18L1796.3 673.16L1800.96 673.15L1805.61 673.14L1810.27 673.13L1814.93 673.12L1819.58 673.11L1824.24 673.1L1828.89 673.09L1833.55 673.09L1838.2 673.08L1842.86 673.07L1847.52 673.06L1852.17 673.06L1856.83 673.05L1861.48 673.04L1866.14 673.04L1870.79 673.03L1875.45 673.03L1880.11 673.02L1884.76 673.02L1889.42 673.01L1894.07 673.01L1898.73 673.01L1903.38 673L1908.04 673L1912.7 672.99L1917.35 672.99L1922.01 672.99L1926.66 672.98L1931.32 672.98L1935.97 672.98L1940.63 672.98L1945.29 672.97L1949.94 672.97L1954.6 672.97L1959.25 672.97L1963.91 672.97L1968.56 672.96L1973.22 672.96L1977.88 672.96L1982.53 672.96L1987.19 672.96L1991.84 672.96L1996.5 672.95L2001.15 672.95L2005.81 672.95L2010.47 672.95L2015.12 672.95L2019.78 672.95L2024.43 672.95L2029.09 672.95L2033.74 672.94L2038.4 672.94" stroke="#c7c8ca" stroke-width="5.9" fill="none" stroke-linecap="round" stroke-linejoin="round"/>
<path d="M1144.5 918.51L1149.16 908.34L1153.81 898.59L1158.47 889.25L1163.12 880.29L1167.78 871.72L1172.43 863.5L1177.09 855.63L1181.75 848.08L1186.4 840.86L1191.06 833.93L1195.71 827.29L1200.37 820.94L1205.02 814.84L1209.68 809.01L1214.34 803.41L1218.99 798.06L1223.65 792.92L1228.3 788L1232.96 783.29L1237.61 778.77L1242.27 774.44L1246.93 770.3L1251.58 766.33L1256.24 762.52L1260.89 758.87L1265.55 755.38L1270.2 752.03L1274.86 748.82L1279.52 745.75L1284.17 742.8L1288.83 739.98L1293.48 737.27L1298.14 734.68L1302.79 732.2L1307.45 729.82L1312.11 727.54L1316.76 725.36L1321.42 723.27L1326.07 721.26L1330.73 719.34L1335.38 717.5L1340.04 715.74L1344.7 714.05L1349.35 712.43L1354.01 710.88L1358.66 709.39L1363.32 707.97L1367.97 706.6L1372.63 705.3L1377.29 704.04L1381.94 702.84L1386.6 701.69L1391.25 700.59L1395.91 699.54L1400.57 698.53L1405.22 697.56L1409.88 696.63L1414.53 695.74L1419.19 694.89L1423.84 694.07L1428.5 693.29L1433.16 692.54L1437.81 691.82L1442.47 691.13L1447.12 690.47L1451.78 689.84L1456.43 689.23L1461.09 688.65L1465.75 688.1L1470.4 687.56L1475.06 687.05L1479.71 686.56L1484.37 686.09L1489.02 685.65L1493.68 685.22L1498.34 684.8L1502.99 684.41L1507.65 684.03L1512.3 683.67L1516.96 683.32L1521.61 682.99L1526.27 682.67L1530.93 682.36L1535.58 682.07L1540.24 681.79L1544.89 681.52L1549.55 681.26L1554.2 681.02L1558.86 680.78L1563.52 680.55L1568.17 680.34L1572.83 680.13L1577.48 679.93L1582.14 679.74L1586.79 679.55L1591.45 679.38L1596.11 679.21L1600.76 679.05L1605.42 678.9L1610.07 678.75L1614.73 678.61L1619.38 678.47L1624.04 678.34L1628.7 678.22L1633.35 678.1L1638.01 677.98L1642.66 677.87L1647.32 677.77L1651.97 677.67L1656.63 677.57L1661.29 677.48L1665.94 677.39L1670.6 677.31L1675.25 677.22L1679.91 677.15L1684.56 677.07L1689.22 677L1693.88 676.93L1698.53 676.87L1703.19 676.8L1707.84 676.74L1712.5 676.69L1717.15 676.63L1721.81 676.58L1726.47 676.53L1731.12 676.48L1735.78 676.43L1740.43 676.39L1745.09 676.34L1749.74 676.3L1754.4 676.26L1759.06 676.23L1763.71 676.19L1768.37 676.16L1773.02 676.12L1777.68 676.09L1782.33 676.06L1786.99 676.03L1791.65 676L1796.3 675.98L1800.96 675.95L1805.61 675.93L1810.27 675.9L1814.93 675.88L1819.58 675.86L1824.24 675.84L1828.89 675.82L1833.55 675.8L1838.2 675.78L1842.86 675.76L1847.52 675.75L1852.17 675.73L1856.83 675.72L1861.48 675.7L1866.14 675.69L1870.79 675.67L1875.45 675.66L1880.11 675.65L1884.76 675.64L1889.42 675.63L1894.07 675.61L1898.73 675.6L1903.38 675.59L1908.04 675.58L1912.7 675.58L1917.35 675.57L1922.01 675.56L1926.66 675.55L1931.32 675.54L1935.97 675.54L1940.63 675.53L1945.29 675.52L1949.94 675.51L1954.6 675.51L1959.25 675.5L1963.91 675.5L1968.56 675.49L1973.22 675.49L1977.88 675.48L1982.53 675.48L1987.19 675.47L1991.84 675.47L1996.5 675.46L2001.15 675.46L2005.81 675.45L2010.47 675.45L2015.12 675.45L2019.78 675.44L2024.43 675.44L2029.09 675.44L2033.74 675.43L2038.4 675.43" stroke="#898b8e" stroke-width="5.9" fill="none" stroke-linecap="round" stroke-linejoin="round"/>
<path d="M1144.5 953.48L1149.16 939.78L1153.81 926.74L1158.47 914.34L1163.12 902.55L1167.78 891.33L1172.43 880.66L1177.09 870.51L1181.75 860.85L1186.4 851.67L1191.06 842.93L1195.71 834.62L1200.37 826.71L1205.02 819.19L1209.68 812.04L1214.34 805.24L1218.99 798.76L1223.65 792.61L1228.3 786.75L1232.96 781.18L1237.61 775.88L1242.27 770.84L1246.93 766.04L1251.58 761.48L1256.24 757.14L1260.89 753.02L1265.55 749.09L1270.2 745.36L1274.86 741.8L1279.52 738.42L1284.17 735.21L1288.83 732.15L1293.48 729.24L1298.14 726.48L1302.79 723.85L1307.45 721.34L1312.11 718.96L1316.76 716.7L1321.42 714.54L1326.07 712.49L1330.73 710.54L1335.38 708.69L1340.04 706.92L1344.7 705.25L1349.35 703.65L1354.01 702.13L1358.66 700.69L1363.32 699.31L1367.97 698.01L1372.63 696.76L1377.29 695.58L1381.94 694.46L1386.6 693.39L1391.25 692.37L1395.91 691.4L1400.57 690.48L1405.22 689.6L1409.88 688.77L1414.53 687.98L1419.19 687.22L1423.84 686.51L1428.5 685.83L1433.16 685.18L1437.81 684.56L1442.47 683.97L1447.12 683.41L1451.78 682.88L1456.43 682.38L1461.09 681.9L1465.75 681.44L1470.4 681L1475.06 680.59L1479.71 680.2L1484.37 679.82L1489.02 679.47L1493.68 679.13L1498.34 678.8L1502.99 678.5L1507.65 678.21L1512.3 677.93L1516.96 677.67L1521.61 677.41L1526.27 677.18L1530.93 676.95L1535.58 676.73L1540.24 676.53L1544.89 676.33L1549.55 676.15L1554.2 675.97L1558.86 675.8L1563.52 675.64L1568.17 675.49L1572.83 675.34L1577.48 675.21L1582.14 675.07L1586.79 674.95L1591.45 674.83L1596.11 674.72L1600.76 674.61L1605.42 674.51L1610.07 674.41L1614.73 674.32L1619.38 674.23L1624.04 674.15L1628.7 674.07L1633.35 673.99L1638.01 673.92L1642.66 673.85L1647.32 673.79L1651.97 673.73L1656.63 673.67L1661.29 673.61L1665.94 673.56L1670.6 673.51L1675.25 673.46L1679.91 673.41L1684.56 673.37L1689.22 673.33L1693.88 673.29L1698.53 673.25L1703.19 673.22L1707.84 673.18L1712.5 673.15L1717.15 673.12L1721.81 673.09L1726.47 673.06L1731.12 673.04L1735.78 673.01L1740.43 672.99L1745.09 672.96L1749.74 672.94L1754.4 672.92L1759.06 672.9L1763.71 672.88L1768.37 672.87L1773.02 672.85L1777.68 672.83L1782.33 672.82L1786.99 672.8L1791.65 672.79L1796.3 672.78L1800.96 672.76L1805.61 672.75L1810.27 672.74L1814.93 672.73L1819.58 672.72L1824.24 672.71L1828.89 672.7L1833.55 672.69L1838.2 672.68L1842.86 672.67L1847.52 672.67L1852.17 672.66L1856.83 672.65L1861.48 672.65L1866.14 672.64L1870.79 672.63L1875.45 672.63L1880.11 672.62L1884.76 672.62L1889.42 672.61L1894.07 672.61L1898.73 672.6L1903.38 672.6L1908.04 672.6L1912.7 672.59L1917.35 672.59L1922.01 672.59L1926.66 672.58L1931.32 672.58L1935.97 672.58L1940.63 672.57L1945.29 672.57L1949.94 672.57L1954.6 672.57L1959.25 672.56L1963.91 672.56L1968.56 672.56L1973.22 672.56L1977.88 672.56L1982.53 672.55L1987.19 672.55L1991.84 672.55L1996.5 672.55L2001.15 672.55L2005.81 672.55L2010.47 672.55L2015.12 672.54L2019.78 672.54L2024.43 672.54L2029.09 672.54L2033.74 672.54L2038.4 672.54" stroke="#636466" stroke-width="5.9" fill="none" stroke-linecap="round" stroke-linejoin="round"/>
<path d="M1144.5 955.92L1149.16 943.8L1153.81 932.2L1158.47 921.08L1163.12 910.43L1167.78 900.23L1172.43 890.46L1177.09 881.1L1181.75 872.13L1186.4 863.54L1191.06 855.31L1195.71 847.43L1200.37 839.88L1205.02 832.65L1209.68 825.72L1214.34 819.08L1218.99 812.73L1223.65 806.64L1228.3 800.8L1232.96 795.22L1237.61 789.86L1242.27 784.74L1246.93 779.83L1251.58 775.12L1256.24 770.61L1260.89 766.3L1265.55 762.16L1270.2 758.2L1274.86 754.41L1279.52 750.77L1284.17 747.29L1288.83 743.95L1293.48 740.76L1298.14 737.7L1302.79 734.77L1307.45 731.96L1312.11 729.27L1316.76 726.69L1321.42 724.22L1326.07 721.86L1330.73 719.6L1335.38 717.43L1340.04 715.35L1344.7 713.36L1349.35 711.45L1354.01 709.62L1358.66 707.87L1363.32 706.2L1367.97 704.59L1372.63 703.05L1377.29 701.58L1381.94 700.17L1386.6 698.82L1391.25 697.52L1395.91 696.28L1400.57 695.09L1405.22 693.95L1409.88 692.86L1414.53 691.82L1419.19 690.82L1423.84 689.86L1428.5 688.94L1433.16 688.06L1437.81 687.22L1442.47 686.41L1447.12 685.64L1451.78 684.9L1456.43 684.19L1461.09 683.51L1465.75 682.86L1470.4 682.24L1475.06 681.64L1479.71 681.07L1484.37 680.52L1489.02 679.99L1493.68 679.49L1498.34 679.01L1502.99 678.55L1507.65 678.11L1512.3 677.68L1516.96 677.28L1521.61 676.89L1526.27 676.52L1530.93 676.16L1535.58 675.82L1540.24 675.49L1544.89 675.18L1549.55 674.88L1554.2 674.59L1558.86 674.32L1563.52 674.05L1568.17 673.8L1572.83 673.56L1577.48 673.32L1582.14 673.1L1586.79 672.89L1591.45 672.69L1596.11 672.49L1600.76 672.3L1605.42 672.12L1610.07 671.95L1614.73 671.79L1619.38 671.63L1624.04 671.48L1628.7 671.34L1633.35 671.2L1638.01 671.06L1642.66 670.94L1647.32 670.82L1651.97 670.7L1656.63 670.59L1661.29 670.48L1665.94 670.38L1670.6 670.28L1675.25 670.19L1679.91 670.1L1684.56 670.01L1689.22 669.93L1693.88 669.85L1698.53 669.77L1703.19 669.7L1707.84 669.63L1712.5 669.56L1717.15 669.5L1721.81 669.44L1726.47 669.38L1731.12 669.32L1735.78 669.27L1740.43 669.22L1745.09 669.17L1749.74 669.12L1754.4 669.08L1759.06 669.03L1763.71 668.99L1768.37 668.95L1773.02 668.91L1777.68 668.88L1782.33 668.84L1786.99 668.81L1791.65 668.78L1796.3 668.75L1800.96 668.72L1805.61 668.69L1810.27 668.66L1814.93 668.64L1819.58 668.61L1824.24 668.59L1828.89 668.56L1833.55 668.54L1838.2 668.52L1842.86 668.5L1847.52 668.48L1852.17 668.46L1856.83 668.45L1861.48 668.43L1866.14 668.41L1870.79 668.4L1875.45 668.38L1880.11 668.37L1884.76 668.36L1889.42 668.34L1894.07 668.33L1898.73 668.32L1903.38 668.31L1908.04 668.3L1912.7 668.29L1917.35 668.28L1922.01 668.27L1926.66 668.26L1931.32 668.25L1935.97 668.24L1940.63 668.23L1945.29 668.22L1949.94 668.22L1954.6 668.21L1959.25 668.2L1963.91 668.2L1968.56 668.19L1973.22 668.18L1977.88 668.18L1982.53 668.17L1987.19 668.17L1991.84 668.16L1996.5 668.16L2001.15 668.15L2005.81 668.15L2010.47 668.14L2015.12 668.14L2019.78 668.14L2024.43 668.13L2029.09 668.13L2033.74 668.12L2038.4 668.12" stroke="#231f20" stroke-width="5.9" fill="none" stroke-linecap="round" stroke-linejoin="round"/>
<rect x="1136.35" y="969.73" width="16.3" height="16.3" fill="#c7c8ca"/>
<rect x="1192.22" y="807.9" width="16.3" height="16.3" fill="#c7c8ca"/>
<rect x="1248.09" y="733.9" width="16.3" height="16.3" fill="#c7c8ca"/>
<rect x="1303.96" y="710.72" width="16.3" height="16.3" fill="#c7c8ca"/>
<rect x="1359.82" y="694.05" width="16.3" height="16.3" fill="#c7c8ca"/>
<rect x="1583.3" y="672.09" width="16.3" height="16.3" fill="#c7c8ca"/>
<rect x="2030.25" y="659.49" width="16.3" height="16.3" fill="#c7c8ca"/>
<path d="M1144.5 962.81L1152.65 970.96L1144.5 979.11L1136.35 970.96Z" fill="#898b8e"/>
<path d="M1200.37 818.06L1208.52 826.21L1200.37 834.36L1192.22 826.21Z" fill="#898b8e"/>
<path d="M1256.24 740.81L1264.39 748.96L1256.24 757.11L1248.09 748.96Z" fill="#898b8e"/>
<path d="M1312.11 735.12L1320.26 743.27L1312.11 751.42L1303.96 743.27Z" fill="#898b8e"/>
<path d="M1367.97 703L1376.12 711.15L1367.97 719.3L1359.82 711.15Z" fill="#898b8e"/>
<path d="M1591.45 674.74L1599.6 682.89L1591.45 691.04L1583.3 682.89Z" fill="#898b8e"/>
<path d="M2038.4 664.78L2046.55 672.93L2038.4 681.08L2030.25 672.93Z" fill="#898b8e"/>
<circle cx="1144.5" cy="970.96" r="6.7" fill="#636466"/>
<circle cx="1200.37" cy="825.4" r="6.7" fill="#636466"/>
<circle cx="1256.24" cy="763.19" r="6.7" fill="#636466"/>
<circle cx="1312.11" cy="720.09" r="6.7" fill="#636466"/>
<circle cx="1367.97" cy="694.48" r="6.7" fill="#636466"/>
<circle cx="1591.45" cy="682.28" r="6.7" fill="#636466"/>
<circle cx="2038.4" cy="671.3" r="6.7" fill="#636466"/>
<path d="M1144.5 972.78L1152.65 989.08L1136.35 989.08Z" fill="#231f20"/>
<path d="M1200.37 821.72L1208.52 838.02L1192.22 838.02Z" fill="#231f20"/>
<path d="M1256.24 783.1L1264.39 799.4L1248.09 799.4Z" fill="#231f20"/>
<path d="M1312.11 716.01L1320.26 732.31L1303.96 732.31Z" fill="#231f20"/>
<path d="M1367.97 691.61L1376.12 707.91L1359.82 707.91Z" fill="#231f20"/>
<path d="M1591.45 672.91L1599.6 689.21L1583.3 689.21Z" fill="#231f20"/>
<path d="M2038.4 660.3L2046.55 676.6L2030.25 676.6Z" fill="#231f20"/>
<text transform="translate(1051.7 636.8) scale(1.0 1.04)" font-size="27.0" font-weight="bold">D</text>
<text transform="translate(1069.5 831.5) rotate(-90) scale(1 1.1)" font-size="23.3" text-anchor="middle" textLength="222.2" lengthAdjust="spacingAndGlyphs" stroke="#231f20" stroke-width="0.45">OM degradation (%)</text>
<text transform="translate(1591.15 1114.1) scale(1 1.11)" font-size="23.3" text-anchor="middle" textLength="91.5" lengthAdjust="spacingAndGlyphs" stroke="#231f20" stroke-width="0.45">Time (h)</text>
<path d="M1147.2 1142.8H1199" stroke="#c7c8ca" stroke-width="5.9" stroke-linecap="round" fill="none"/>
<path d="M1237.3 1142.8H1289.2" stroke="#898b8e" stroke-width="5.9" stroke-linecap="round" fill="none"/>
<path d="M1327.45 1142.8H1379.15" stroke="#636466" stroke-width="5.9" stroke-linecap="round" fill="none"/>
<path d="M1429.9 1142.8H1481.55" stroke="#231f20" stroke-width="5.9" stroke-linecap="round" fill="none"/>
<rect x="1551.7" y="1136" width="13.6" height="13.6" fill="#c7c8ca"/>
<path d="M1648.7 1136L1655.5 1142.8L1648.7 1149.6L1641.9 1142.8Z" fill="#898b8e"/>
<circle cx="1738.75" cy="1142.8" r="6.9" fill="#636466"/>
<path d="M1841.3 1136L1848.1 1149.6L1834.5 1149.6Z" fill="#231f20"/>
<text transform="translate(1204.4 1150.1) scale(1 1.07)" font-size="21.6" stroke="#231f20" stroke-width="0.45">0</text>
<text transform="translate(1589.5 1150.1) scale(1 1.07)" font-size="21.6" stroke="#231f20" stroke-width="0.45">0</text>
<text transform="translate(1295.3 1150.1) scale(1 1.07)" font-size="21.6" stroke="#231f20" stroke-width="0.45">5</text>
<text transform="translate(1680 1150.1) scale(1 1.07)" font-size="21.6" stroke="#231f20" stroke-width="0.45">5</text>
<text transform="translate(1384.8 1150.1) scale(1 1.07)" font-size="21.6" stroke="#231f20" stroke-width="0.45">10</text>
<text transform="translate(1769.6 1150.1) scale(1 1.07)" font-size="21.6" stroke="#231f20" stroke-width="0.45">10</text>
<text transform="translate(1487.8 1150.1) scale(1 1.07)" font-size="21.6" stroke="#231f20" stroke-width="0.45">15</text>
<text transform="translate(1872.1 1150.1) scale(1 1.07)" font-size="21.6" stroke="#231f20" stroke-width="0.45">15</text>
<text transform="translate(1526.45 1190.1) scale(1 1.08)" font-size="21.0" text-anchor="middle" textLength="92.5" lengthAdjust="spacingAndGlyphs" stroke="#231f20" stroke-width="0.45">Synergen</text>
<text transform="translate(1602.1 1190.1) scale(1 1.08)" font-size="21.0" text-anchor="middle" textLength="46.8" lengthAdjust="spacingAndGlyphs" stroke="#231f20" stroke-width="0.45">dose</text>
<text transform="translate(1655.9 1190.1) scale(1 1.08)" font-size="21.0" text-anchor="middle" textLength="47.7" lengthAdjust="spacingAndGlyphs" stroke="#231f20" stroke-width="0.45">(g/d)</text></g>
</svg>
</body></html>
